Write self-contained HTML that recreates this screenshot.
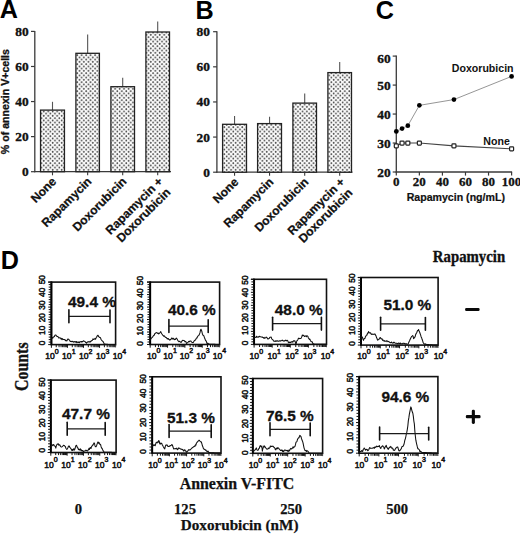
<!DOCTYPE html>
<html><head><meta charset="utf-8"><style>
html,body{margin:0;padding:0;background:#fff;}
body{width:520px;height:534px;overflow:hidden;font-family:"Liberation Sans", sans-serif;}
svg{display:block;}
</style></head><body>
<svg width="520" height="534" viewBox="0 0 520 534">
<defs>
<pattern id="dots" patternUnits="userSpaceOnUse" x="0.3" y="0" width="4.46" height="4.5">
<rect width="4.46" height="4.5" fill="#fcfcfc"/>
<circle cx="1.1" cy="1.1" r="0.9" fill="#383838"/>
<circle cx="3.33" cy="3.35" r="0.9" fill="#383838"/>
</pattern>
</defs>
<rect width="520" height="534" fill="#fff"/>
<text x="-0.3" y="18.2" font-family='"Liberation Sans", sans-serif' font-weight="bold" font-size="25.2" fill="#000">A</text>
<text x="195.5" y="18.9" font-family='"Liberation Sans", sans-serif' font-weight="bold" font-size="25.2" fill="#000">B</text>
<text x="375.8" y="18.6" font-family='"Liberation Sans", sans-serif' font-weight="bold" font-size="25.2" fill="#000">C</text>
<text x="0.8" y="269" font-family='"Liberation Sans", sans-serif' font-weight="bold" font-size="25.2" fill="#000">D</text>
<line x1="34.8" y1="30.9" x2="34.8" y2="172.3" stroke="#3a3a3a" stroke-width="1.3"/>
<line x1="34.2" y1="171.7" x2="171.0" y2="171.7" stroke="#3a3a3a" stroke-width="1.3"/>
<line x1="31" y1="171.70" x2="34.8" y2="171.70" stroke="#3a3a3a" stroke-width="1.2"/>
<text x="28.6" y="176.20" text-anchor="end" font-family='"Liberation Serif", serif' font-weight="bold" font-size="13.4" fill="#111" stroke="#111" stroke-width="0.35">0</text>
<line x1="31" y1="136.62" x2="34.8" y2="136.62" stroke="#3a3a3a" stroke-width="1.2"/>
<text x="28.6" y="141.12" text-anchor="end" font-family='"Liberation Serif", serif' font-weight="bold" font-size="13.4" fill="#111" stroke="#111" stroke-width="0.35">20</text>
<line x1="31" y1="101.55" x2="34.8" y2="101.55" stroke="#3a3a3a" stroke-width="1.2"/>
<text x="28.6" y="106.05" text-anchor="end" font-family='"Liberation Serif", serif' font-weight="bold" font-size="13.4" fill="#111" stroke="#111" stroke-width="0.35">40</text>
<line x1="31" y1="66.48" x2="34.8" y2="66.48" stroke="#3a3a3a" stroke-width="1.2"/>
<text x="28.6" y="70.98" text-anchor="end" font-family='"Liberation Serif", serif' font-weight="bold" font-size="13.4" fill="#111" stroke="#111" stroke-width="0.35">60</text>
<line x1="31" y1="31.40" x2="34.8" y2="31.40" stroke="#3a3a3a" stroke-width="1.2"/>
<text x="28.6" y="35.90" text-anchor="end" font-family='"Liberation Serif", serif' font-weight="bold" font-size="13.4" fill="#111" stroke="#111" stroke-width="0.35">80</text>
<line x1="52.50" y1="101.80" x2="52.50" y2="110.10" stroke="#555" stroke-width="1.1"/>
<rect x="40.55" y="110.10" width="23.90" height="61.60" fill="url(#dots)" stroke="#222" stroke-width="1.3"/>
<line x1="52.50" y1="171.7" x2="52.50" y2="175.3" stroke="#3a3a3a" stroke-width="1.1"/>
<line x1="87.65" y1="34.60" x2="87.65" y2="53.30" stroke="#555" stroke-width="1.1"/>
<rect x="75.90" y="53.30" width="23.50" height="118.40" fill="url(#dots)" stroke="#222" stroke-width="1.3"/>
<line x1="87.65" y1="171.7" x2="87.65" y2="175.3" stroke="#3a3a3a" stroke-width="1.1"/>
<line x1="122.70" y1="77.80" x2="122.70" y2="86.70" stroke="#555" stroke-width="1.1"/>
<rect x="110.90" y="86.70" width="23.60" height="85.00" fill="url(#dots)" stroke="#222" stroke-width="1.3"/>
<line x1="122.70" y1="171.7" x2="122.70" y2="175.3" stroke="#3a3a3a" stroke-width="1.1"/>
<line x1="157.70" y1="21.50" x2="157.70" y2="32.00" stroke="#555" stroke-width="1.1"/>
<rect x="145.90" y="32.00" width="23.60" height="139.70" fill="url(#dots)" stroke="#222" stroke-width="1.3"/>
<line x1="157.70" y1="171.7" x2="157.70" y2="175.3" stroke="#3a3a3a" stroke-width="1.1"/>
<text transform="translate(57.10,182.20) rotate(-45)" x="0" y="0" text-anchor="end" font-family='"Liberation Sans", sans-serif' font-weight="bold" font-size="12.1" fill="#111" stroke="#111" stroke-width="0.25">None</text>
<text transform="translate(92.25,182.20) rotate(-45)" x="0" y="0" text-anchor="end" font-family='"Liberation Sans", sans-serif' font-weight="bold" font-size="12.1" fill="#111" stroke="#111" stroke-width="0.25">Rapamycin</text>
<text transform="translate(127.30,182.20) rotate(-45)" x="0" y="0" text-anchor="end" font-family='"Liberation Sans", sans-serif' font-weight="bold" font-size="12.1" fill="#111" stroke="#111" stroke-width="0.25">Doxorubicin</text>
<text transform="translate(163.50,182.20) rotate(-45)" x="0" y="0" text-anchor="end" font-family='"Liberation Sans", sans-serif' font-weight="bold" font-size="12.1" fill="#111" stroke="#111" stroke-width="0.25">Rapamycin +</text>
<text transform="translate(171.31,193.05) rotate(-45)" x="0" y="0" text-anchor="end" font-family='"Liberation Sans", sans-serif' font-weight="bold" font-size="12.1" fill="#111" stroke="#111" stroke-width="0.25">Doxorubicin</text>
<line x1="216.9" y1="31.2" x2="216.9" y2="172.8" stroke="#3a3a3a" stroke-width="1.3"/>
<line x1="216.3" y1="172.2" x2="352.5" y2="172.2" stroke="#3a3a3a" stroke-width="1.3"/>
<line x1="213.1" y1="172.20" x2="216.9" y2="172.20" stroke="#3a3a3a" stroke-width="1.2"/>
<text x="210.0" y="176.70" text-anchor="end" font-family='"Liberation Serif", serif' font-weight="bold" font-size="13.4" fill="#111" stroke="#111" stroke-width="0.35">0</text>
<line x1="213.1" y1="137.07" x2="216.9" y2="137.07" stroke="#3a3a3a" stroke-width="1.2"/>
<text x="210.0" y="141.57" text-anchor="end" font-family='"Liberation Serif", serif' font-weight="bold" font-size="13.4" fill="#111" stroke="#111" stroke-width="0.35">20</text>
<line x1="213.1" y1="101.95" x2="216.9" y2="101.95" stroke="#3a3a3a" stroke-width="1.2"/>
<text x="210.0" y="106.45" text-anchor="end" font-family='"Liberation Serif", serif' font-weight="bold" font-size="13.4" fill="#111" stroke="#111" stroke-width="0.35">40</text>
<line x1="213.1" y1="66.82" x2="216.9" y2="66.82" stroke="#3a3a3a" stroke-width="1.2"/>
<text x="210.0" y="71.32" text-anchor="end" font-family='"Liberation Serif", serif' font-weight="bold" font-size="13.4" fill="#111" stroke="#111" stroke-width="0.35">60</text>
<line x1="213.1" y1="31.70" x2="216.9" y2="31.70" stroke="#3a3a3a" stroke-width="1.2"/>
<text x="210.0" y="36.20" text-anchor="end" font-family='"Liberation Serif", serif' font-weight="bold" font-size="13.4" fill="#111" stroke="#111" stroke-width="0.35">80</text>
<line x1="234.55" y1="116.10" x2="234.55" y2="124.30" stroke="#555" stroke-width="1.1"/>
<rect x="222.60" y="124.30" width="23.90" height="47.90" fill="url(#dots)" stroke="#222" stroke-width="1.3"/>
<line x1="234.55" y1="172.2" x2="234.55" y2="175.8" stroke="#3a3a3a" stroke-width="1.1"/>
<line x1="269.55" y1="116.80" x2="269.55" y2="123.60" stroke="#555" stroke-width="1.1"/>
<rect x="257.60" y="123.60" width="23.90" height="48.60" fill="url(#dots)" stroke="#222" stroke-width="1.3"/>
<line x1="269.55" y1="172.2" x2="269.55" y2="175.8" stroke="#3a3a3a" stroke-width="1.1"/>
<line x1="304.70" y1="93.50" x2="304.70" y2="103.10" stroke="#555" stroke-width="1.1"/>
<rect x="292.90" y="103.10" width="23.60" height="69.10" fill="url(#dots)" stroke="#222" stroke-width="1.3"/>
<line x1="304.70" y1="172.2" x2="304.70" y2="175.8" stroke="#3a3a3a" stroke-width="1.1"/>
<line x1="339.70" y1="62.10" x2="339.70" y2="72.60" stroke="#555" stroke-width="1.1"/>
<rect x="327.90" y="72.60" width="23.60" height="99.60" fill="url(#dots)" stroke="#222" stroke-width="1.3"/>
<line x1="339.70" y1="172.2" x2="339.70" y2="175.8" stroke="#3a3a3a" stroke-width="1.1"/>
<text transform="translate(239.15,182.70) rotate(-45)" x="0" y="0" text-anchor="end" font-family='"Liberation Sans", sans-serif' font-weight="bold" font-size="12.1" fill="#111" stroke="#111" stroke-width="0.25">None</text>
<text transform="translate(274.15,182.70) rotate(-45)" x="0" y="0" text-anchor="end" font-family='"Liberation Sans", sans-serif' font-weight="bold" font-size="12.1" fill="#111" stroke="#111" stroke-width="0.25">Rapamycin</text>
<text transform="translate(309.30,182.70) rotate(-45)" x="0" y="0" text-anchor="end" font-family='"Liberation Sans", sans-serif' font-weight="bold" font-size="12.1" fill="#111" stroke="#111" stroke-width="0.25">Doxorubicin</text>
<text transform="translate(345.50,182.70) rotate(-45)" x="0" y="0" text-anchor="end" font-family='"Liberation Sans", sans-serif' font-weight="bold" font-size="12.1" fill="#111" stroke="#111" stroke-width="0.25">Rapamycin +</text>
<text transform="translate(353.31,193.55) rotate(-45)" x="0" y="0" text-anchor="end" font-family='"Liberation Sans", sans-serif' font-weight="bold" font-size="12.1" fill="#111" stroke="#111" stroke-width="0.25">Doxorubicin</text>
<text transform="translate(9.2,101.6) rotate(-90)" text-anchor="middle" font-family='"Liberation Sans", sans-serif' font-weight="bold" font-size="10.6" fill="#111" stroke="#111" stroke-width="0.3">% of annexin V+cells</text>
<line x1="396.3" y1="55.6" x2="396.3" y2="172.6" stroke="#3a3a3a" stroke-width="1.3"/>
<line x1="395.7" y1="172.0" x2="512.1" y2="172.0" stroke="#3a3a3a" stroke-width="1.3"/>
<line x1="392.7" y1="172.00" x2="396.3" y2="172.00" stroke="#3a3a3a" stroke-width="1.2"/>
<text x="390.6" y="176.50" text-anchor="end" font-family='"Liberation Serif", serif' font-weight="bold" font-size="13.4" fill="#111" stroke="#111" stroke-width="0.35">20</text>
<line x1="392.7" y1="143.03" x2="396.3" y2="143.03" stroke="#3a3a3a" stroke-width="1.2"/>
<text x="390.6" y="147.53" text-anchor="end" font-family='"Liberation Serif", serif' font-weight="bold" font-size="13.4" fill="#111" stroke="#111" stroke-width="0.35">30</text>
<line x1="392.7" y1="114.05" x2="396.3" y2="114.05" stroke="#3a3a3a" stroke-width="1.2"/>
<text x="390.6" y="118.55" text-anchor="end" font-family='"Liberation Serif", serif' font-weight="bold" font-size="13.4" fill="#111" stroke="#111" stroke-width="0.35">40</text>
<line x1="392.7" y1="85.08" x2="396.3" y2="85.08" stroke="#3a3a3a" stroke-width="1.2"/>
<text x="390.6" y="89.58" text-anchor="end" font-family='"Liberation Serif", serif' font-weight="bold" font-size="13.4" fill="#111" stroke="#111" stroke-width="0.35">50</text>
<line x1="392.7" y1="56.10" x2="396.3" y2="56.10" stroke="#3a3a3a" stroke-width="1.2"/>
<text x="390.6" y="62.60" text-anchor="end" font-family='"Liberation Serif", serif' font-weight="bold" font-size="13.4" fill="#111" stroke="#111" stroke-width="0.35">60</text>
<line x1="396.30" y1="172.0" x2="396.30" y2="175.6" stroke="#3a3a3a" stroke-width="1.2"/>
<text x="396.30" y="185.9" text-anchor="middle" font-family='"Liberation Serif", serif' font-weight="bold" font-size="13.0" fill="#111" stroke="#111" stroke-width="0.3">0</text>
<line x1="419.36" y1="172.0" x2="419.36" y2="175.6" stroke="#3a3a3a" stroke-width="1.2"/>
<text x="419.36" y="185.9" text-anchor="middle" font-family='"Liberation Serif", serif' font-weight="bold" font-size="13.0" fill="#111" stroke="#111" stroke-width="0.3">20</text>
<line x1="442.42" y1="172.0" x2="442.42" y2="175.6" stroke="#3a3a3a" stroke-width="1.2"/>
<text x="442.42" y="185.9" text-anchor="middle" font-family='"Liberation Serif", serif' font-weight="bold" font-size="13.0" fill="#111" stroke="#111" stroke-width="0.3">40</text>
<line x1="465.48" y1="172.0" x2="465.48" y2="175.6" stroke="#3a3a3a" stroke-width="1.2"/>
<text x="465.48" y="185.9" text-anchor="middle" font-family='"Liberation Serif", serif' font-weight="bold" font-size="13.0" fill="#111" stroke="#111" stroke-width="0.3">60</text>
<line x1="488.54" y1="172.0" x2="488.54" y2="175.6" stroke="#3a3a3a" stroke-width="1.2"/>
<text x="488.54" y="185.9" text-anchor="middle" font-family='"Liberation Serif", serif' font-weight="bold" font-size="13.0" fill="#111" stroke="#111" stroke-width="0.3">80</text>
<line x1="511.60" y1="172.0" x2="511.60" y2="175.6" stroke="#3a3a3a" stroke-width="1.2"/>
<text x="511.60" y="185.9" text-anchor="middle" font-family='"Liberation Serif", serif' font-weight="bold" font-size="13.0" fill="#111" stroke="#111" stroke-width="0.3">100</text>
<polyline points="396.30,131.44 402.06,128.54 407.83,125.64 419.36,105.36 453.95,99.56 511.60,76.38" fill="none" stroke="#8a8a8a" stroke-width="0.9"/>
<polyline points="396.30,145.92 402.06,143.03 407.83,143.03 419.36,143.03 453.95,145.92 511.60,148.82" fill="none" stroke="#444" stroke-width="1.1"/>
<circle cx="396.30" cy="131.44" r="2.35" fill="#000"/>
<circle cx="402.06" cy="128.54" r="2.35" fill="#000"/>
<circle cx="407.83" cy="125.64" r="2.35" fill="#000"/>
<circle cx="419.36" cy="105.36" r="2.35" fill="#000"/>
<circle cx="453.95" cy="99.56" r="2.35" fill="#000"/>
<circle cx="511.60" cy="76.38" r="2.35" fill="#000"/>
<rect x="394.30" y="143.92" width="4.0" height="4.0" rx="0.8" fill="#fff" stroke="#222" stroke-width="1.2"/>
<rect x="400.06" y="141.03" width="4.0" height="4.0" rx="0.8" fill="#fff" stroke="#222" stroke-width="1.2"/>
<rect x="405.83" y="141.03" width="4.0" height="4.0" rx="0.8" fill="#fff" stroke="#222" stroke-width="1.2"/>
<rect x="417.36" y="141.03" width="4.0" height="4.0" rx="0.8" fill="#fff" stroke="#222" stroke-width="1.2"/>
<rect x="451.95" y="143.92" width="4.0" height="4.0" rx="0.8" fill="#fff" stroke="#222" stroke-width="1.2"/>
<rect x="509.60" y="146.82" width="4.0" height="4.0" rx="0.8" fill="#fff" stroke="#222" stroke-width="1.2"/>
<text x="513.6" y="71.8" text-anchor="end" font-family='"Liberation Sans", sans-serif' font-weight="bold" font-size="10.6" fill="#111">Doxorubicin</text>
<text x="509.8" y="145.2" text-anchor="end" font-family='"Liberation Sans", sans-serif' font-weight="bold" font-size="10.6" fill="#111">None</text>
<text x="455.8" y="200.5" text-anchor="middle" font-family='"Liberation Sans", sans-serif' font-weight="bold" font-size="10.6" fill="#111" stroke="#111" stroke-width="0.2">Rapamycin (ng/mL)</text>
<rect x="51.40" y="282.10" width="64.20" height="62.50" fill="none" stroke="#111" stroke-width="1.6"/>
<line x1="51.40" y1="281.50" x2="51.40" y2="345.20" stroke="#000" stroke-width="1.9"/>
<line x1="48.20" y1="282.10" x2="51.40" y2="282.10" stroke="#111" stroke-width="1.2"/>
<line x1="48.20" y1="344.60" x2="51.40" y2="344.60" stroke="#111" stroke-width="1.0"/>
<line x1="48.70" y1="342.10" x2="51.40" y2="342.10" stroke="#111" stroke-width="1.0"/>
<line x1="48.70" y1="339.60" x2="51.40" y2="339.60" stroke="#111" stroke-width="1.0"/>
<line x1="48.70" y1="337.10" x2="51.40" y2="337.10" stroke="#111" stroke-width="1.0"/>
<line x1="48.70" y1="334.60" x2="51.40" y2="334.60" stroke="#111" stroke-width="1.0"/>
<line x1="48.20" y1="332.10" x2="51.40" y2="332.10" stroke="#111" stroke-width="1.0"/>
<line x1="48.70" y1="329.60" x2="51.40" y2="329.60" stroke="#111" stroke-width="1.0"/>
<line x1="48.70" y1="327.10" x2="51.40" y2="327.10" stroke="#111" stroke-width="1.0"/>
<line x1="48.70" y1="324.60" x2="51.40" y2="324.60" stroke="#111" stroke-width="1.0"/>
<line x1="48.70" y1="322.10" x2="51.40" y2="322.10" stroke="#111" stroke-width="1.0"/>
<line x1="48.20" y1="319.60" x2="51.40" y2="319.60" stroke="#111" stroke-width="1.0"/>
<line x1="48.70" y1="317.10" x2="51.40" y2="317.10" stroke="#111" stroke-width="1.0"/>
<line x1="48.70" y1="314.60" x2="51.40" y2="314.60" stroke="#111" stroke-width="1.0"/>
<line x1="48.70" y1="312.10" x2="51.40" y2="312.10" stroke="#111" stroke-width="1.0"/>
<line x1="48.70" y1="309.60" x2="51.40" y2="309.60" stroke="#111" stroke-width="1.0"/>
<line x1="48.20" y1="307.10" x2="51.40" y2="307.10" stroke="#111" stroke-width="1.0"/>
<line x1="48.70" y1="304.60" x2="51.40" y2="304.60" stroke="#111" stroke-width="1.0"/>
<line x1="48.70" y1="302.10" x2="51.40" y2="302.10" stroke="#111" stroke-width="1.0"/>
<line x1="48.70" y1="299.60" x2="51.40" y2="299.60" stroke="#111" stroke-width="1.0"/>
<line x1="48.70" y1="297.10" x2="51.40" y2="297.10" stroke="#111" stroke-width="1.0"/>
<line x1="48.20" y1="294.60" x2="51.40" y2="294.60" stroke="#111" stroke-width="1.0"/>
<line x1="48.70" y1="292.10" x2="51.40" y2="292.10" stroke="#111" stroke-width="1.0"/>
<line x1="48.70" y1="289.60" x2="51.40" y2="289.60" stroke="#111" stroke-width="1.0"/>
<line x1="48.70" y1="287.10" x2="51.40" y2="287.10" stroke="#111" stroke-width="1.0"/>
<line x1="48.70" y1="284.60" x2="51.40" y2="284.60" stroke="#111" stroke-width="1.0"/>
<line x1="48.20" y1="282.10" x2="51.40" y2="282.10" stroke="#111" stroke-width="1.0"/>
<line x1="51.40" y1="344.60" x2="51.40" y2="347.80" stroke="#111" stroke-width="1.0"/>
<line x1="56.23" y1="344.60" x2="56.23" y2="347.20" stroke="#111" stroke-width="1.0"/>
<line x1="59.06" y1="344.60" x2="59.06" y2="347.20" stroke="#111" stroke-width="1.0"/>
<line x1="61.06" y1="344.60" x2="61.06" y2="347.20" stroke="#111" stroke-width="1.0"/>
<line x1="62.62" y1="344.60" x2="62.62" y2="347.20" stroke="#111" stroke-width="1.0"/>
<line x1="63.89" y1="344.60" x2="63.89" y2="347.20" stroke="#111" stroke-width="1.0"/>
<line x1="64.96" y1="344.60" x2="64.96" y2="347.20" stroke="#111" stroke-width="1.0"/>
<line x1="65.89" y1="344.60" x2="65.89" y2="347.20" stroke="#111" stroke-width="1.0"/>
<line x1="66.72" y1="344.60" x2="66.72" y2="347.20" stroke="#111" stroke-width="1.0"/>
<line x1="67.45" y1="344.60" x2="67.45" y2="347.80" stroke="#111" stroke-width="1.0"/>
<line x1="72.28" y1="344.60" x2="72.28" y2="347.20" stroke="#111" stroke-width="1.0"/>
<line x1="75.11" y1="344.60" x2="75.11" y2="347.20" stroke="#111" stroke-width="1.0"/>
<line x1="77.11" y1="344.60" x2="77.11" y2="347.20" stroke="#111" stroke-width="1.0"/>
<line x1="78.67" y1="344.60" x2="78.67" y2="347.20" stroke="#111" stroke-width="1.0"/>
<line x1="79.94" y1="344.60" x2="79.94" y2="347.20" stroke="#111" stroke-width="1.0"/>
<line x1="81.01" y1="344.60" x2="81.01" y2="347.20" stroke="#111" stroke-width="1.0"/>
<line x1="81.94" y1="344.60" x2="81.94" y2="347.20" stroke="#111" stroke-width="1.0"/>
<line x1="82.77" y1="344.60" x2="82.77" y2="347.20" stroke="#111" stroke-width="1.0"/>
<line x1="83.50" y1="344.60" x2="83.50" y2="347.80" stroke="#111" stroke-width="1.0"/>
<line x1="88.33" y1="344.60" x2="88.33" y2="347.20" stroke="#111" stroke-width="1.0"/>
<line x1="91.16" y1="344.60" x2="91.16" y2="347.20" stroke="#111" stroke-width="1.0"/>
<line x1="93.16" y1="344.60" x2="93.16" y2="347.20" stroke="#111" stroke-width="1.0"/>
<line x1="94.72" y1="344.60" x2="94.72" y2="347.20" stroke="#111" stroke-width="1.0"/>
<line x1="95.99" y1="344.60" x2="95.99" y2="347.20" stroke="#111" stroke-width="1.0"/>
<line x1="97.06" y1="344.60" x2="97.06" y2="347.20" stroke="#111" stroke-width="1.0"/>
<line x1="97.99" y1="344.60" x2="97.99" y2="347.20" stroke="#111" stroke-width="1.0"/>
<line x1="98.82" y1="344.60" x2="98.82" y2="347.20" stroke="#111" stroke-width="1.0"/>
<line x1="99.55" y1="344.60" x2="99.55" y2="347.80" stroke="#111" stroke-width="1.0"/>
<line x1="104.38" y1="344.60" x2="104.38" y2="347.20" stroke="#111" stroke-width="1.0"/>
<line x1="107.21" y1="344.60" x2="107.21" y2="347.20" stroke="#111" stroke-width="1.0"/>
<line x1="109.21" y1="344.60" x2="109.21" y2="347.20" stroke="#111" stroke-width="1.0"/>
<line x1="110.77" y1="344.60" x2="110.77" y2="347.20" stroke="#111" stroke-width="1.0"/>
<line x1="112.04" y1="344.60" x2="112.04" y2="347.20" stroke="#111" stroke-width="1.0"/>
<line x1="113.11" y1="344.60" x2="113.11" y2="347.20" stroke="#111" stroke-width="1.0"/>
<line x1="114.04" y1="344.60" x2="114.04" y2="347.20" stroke="#111" stroke-width="1.0"/>
<line x1="114.87" y1="344.60" x2="114.87" y2="347.20" stroke="#111" stroke-width="1.0"/>
<line x1="115.60" y1="344.60" x2="115.60" y2="347.40" stroke="#222" stroke-width="0.8"/>
<text transform="translate(45.00,343.00) rotate(-90)" text-anchor="middle" font-family='"Liberation Sans", sans-serif' font-size="8.4" fill="#111" stroke="#111" stroke-width="0.5">0</text>
<text transform="translate(45.00,330.34) rotate(-90)" text-anchor="middle" font-family='"Liberation Sans", sans-serif' font-size="8.4" fill="#111" stroke="#111" stroke-width="0.5">10</text>
<text transform="translate(45.00,317.68) rotate(-90)" text-anchor="middle" font-family='"Liberation Sans", sans-serif' font-size="8.4" fill="#111" stroke="#111" stroke-width="0.5">20</text>
<text transform="translate(45.00,305.02) rotate(-90)" text-anchor="middle" font-family='"Liberation Sans", sans-serif' font-size="8.4" fill="#111" stroke="#111" stroke-width="0.5">30</text>
<text transform="translate(45.00,292.36) rotate(-90)" text-anchor="middle" font-family='"Liberation Sans", sans-serif' font-size="8.4" fill="#111" stroke="#111" stroke-width="0.5">40</text>
<text transform="translate(45.00,279.70) rotate(-90)" text-anchor="middle" font-family='"Liberation Sans", sans-serif' font-size="8.4" fill="#111" stroke="#111" stroke-width="0.5">50</text>
<text x="45.20" y="358.90" font-family='"Liberation Sans", sans-serif' font-size="8.6" fill="#111" stroke="#111" stroke-width="0.5">10<tspan dy="-5.4" font-size="7.0">0</tspan></text>
<text x="62.10" y="358.90" font-family='"Liberation Sans", sans-serif' font-size="8.6" fill="#111" stroke="#111" stroke-width="0.5">10<tspan dy="-5.4" font-size="7.0">1</tspan></text>
<text x="79.00" y="358.90" font-family='"Liberation Sans", sans-serif' font-size="8.6" fill="#111" stroke="#111" stroke-width="0.5">10<tspan dy="-5.4" font-size="7.0">2</tspan></text>
<text x="95.90" y="358.90" font-family='"Liberation Sans", sans-serif' font-size="8.6" fill="#111" stroke="#111" stroke-width="0.5">10<tspan dy="-5.4" font-size="7.0">3</tspan></text>
<text x="112.80" y="358.90" font-family='"Liberation Sans", sans-serif' font-size="8.6" fill="#111" stroke="#111" stroke-width="0.5">10<tspan dy="-5.4" font-size="7.0">4</tspan></text>
<polyline points="51.40,338.57 51.90,338.44 52.40,337.48 52.90,337.88 53.41,336.99 53.91,336.75 54.41,336.45 54.91,335.20 55.41,335.10 55.91,335.03 56.42,335.99 56.92,336.47 57.42,336.51 57.92,336.40 58.42,337.68 58.92,337.95 59.42,337.79 59.93,337.65 60.43,338.37 60.93,338.85 61.43,338.38 61.93,339.67 62.43,338.65 62.94,339.36 63.44,339.54 63.94,339.58 64.44,339.69 64.94,339.44 65.44,340.62 65.95,340.51 66.45,340.82 66.95,340.91 67.45,339.53 67.95,338.97 68.45,339.20 68.95,339.78 69.46,339.95 69.96,341.03 70.46,341.51 70.96,341.26 71.46,341.52 71.96,341.80 72.47,341.28 72.97,341.48 73.47,342.14 73.97,341.80 74.47,341.91 74.97,341.53 75.47,341.77 75.98,342.38 76.48,341.57 76.98,342.70 77.48,342.29 77.98,341.83 78.48,342.55 78.99,342.10 79.49,342.63 79.99,341.81 80.49,341.65 80.99,341.86 81.49,341.44 82.00,342.11 82.50,341.52 83.00,341.19 83.50,340.75 84.00,341.28 84.50,341.17 85.00,341.41 85.51,342.37 86.01,342.50 86.51,343.30 87.01,342.33 87.51,342.23 88.01,341.63 88.52,341.68 89.02,342.19 89.52,341.90 90.02,341.38 90.52,341.94 91.02,340.95 91.52,340.87 92.03,340.49 92.53,340.12 93.03,338.80 93.53,339.51 94.03,339.31 94.53,339.08 95.04,338.43 95.54,339.24 96.04,338.09 96.54,337.27 97.04,336.16 97.54,335.54 98.05,335.21 98.55,336.51 99.05,336.91 99.55,337.55 100.05,337.46 100.55,337.93 101.05,339.51 101.56,340.04 102.06,340.54 102.56,341.10 103.06,341.61 103.56,342.35 104.06,343.63 104.57,344.53 105.07,344.07 105.57,344.23 106.07,344.35 106.57,344.37 107.07,344.38 107.57,344.39 108.08,344.40 108.58,344.42 109.08,344.43 109.58,344.44 110.08,344.46 110.58,344.47 111.09,344.48 111.59,344.50 112.09,344.51 112.59,344.52 113.09,344.53 113.59,344.55 114.10,344.56 114.60,344.57 115.10,344.59 115.60,344.60" fill="none" stroke="#111" stroke-width="1.05" stroke-linejoin="round"/>
<line x1="68.90" y1="316.30" x2="110.00" y2="316.30" stroke="#1a1a1a" stroke-width="1.25"/>
<line x1="68.90" y1="309.80" x2="68.90" y2="322.70" stroke="#111" stroke-width="1.6" stroke-linecap="round"/>
<line x1="110.00" y1="310.00" x2="110.00" y2="322.70" stroke="#111" stroke-width="1.6" stroke-linecap="round"/>
<text x="68.00" y="306.60" font-family='"Liberation Sans", sans-serif' font-weight="bold" font-size="15.4" fill="#111" stroke="#111" stroke-width="0.3">49.4 %</text>
<rect x="150.20" y="282.10" width="69.40" height="62.40" fill="none" stroke="#111" stroke-width="1.6"/>
<line x1="150.20" y1="281.50" x2="150.20" y2="345.10" stroke="#000" stroke-width="1.9"/>
<line x1="147.00" y1="282.10" x2="150.20" y2="282.10" stroke="#111" stroke-width="1.2"/>
<line x1="147.00" y1="344.50" x2="150.20" y2="344.50" stroke="#111" stroke-width="1.0"/>
<line x1="147.50" y1="342.00" x2="150.20" y2="342.00" stroke="#111" stroke-width="1.0"/>
<line x1="147.50" y1="339.51" x2="150.20" y2="339.51" stroke="#111" stroke-width="1.0"/>
<line x1="147.50" y1="337.01" x2="150.20" y2="337.01" stroke="#111" stroke-width="1.0"/>
<line x1="147.50" y1="334.52" x2="150.20" y2="334.52" stroke="#111" stroke-width="1.0"/>
<line x1="147.00" y1="332.02" x2="150.20" y2="332.02" stroke="#111" stroke-width="1.0"/>
<line x1="147.50" y1="329.52" x2="150.20" y2="329.52" stroke="#111" stroke-width="1.0"/>
<line x1="147.50" y1="327.03" x2="150.20" y2="327.03" stroke="#111" stroke-width="1.0"/>
<line x1="147.50" y1="324.53" x2="150.20" y2="324.53" stroke="#111" stroke-width="1.0"/>
<line x1="147.50" y1="322.04" x2="150.20" y2="322.04" stroke="#111" stroke-width="1.0"/>
<line x1="147.00" y1="319.54" x2="150.20" y2="319.54" stroke="#111" stroke-width="1.0"/>
<line x1="147.50" y1="317.04" x2="150.20" y2="317.04" stroke="#111" stroke-width="1.0"/>
<line x1="147.50" y1="314.55" x2="150.20" y2="314.55" stroke="#111" stroke-width="1.0"/>
<line x1="147.50" y1="312.05" x2="150.20" y2="312.05" stroke="#111" stroke-width="1.0"/>
<line x1="147.50" y1="309.56" x2="150.20" y2="309.56" stroke="#111" stroke-width="1.0"/>
<line x1="147.00" y1="307.06" x2="150.20" y2="307.06" stroke="#111" stroke-width="1.0"/>
<line x1="147.50" y1="304.56" x2="150.20" y2="304.56" stroke="#111" stroke-width="1.0"/>
<line x1="147.50" y1="302.07" x2="150.20" y2="302.07" stroke="#111" stroke-width="1.0"/>
<line x1="147.50" y1="299.57" x2="150.20" y2="299.57" stroke="#111" stroke-width="1.0"/>
<line x1="147.50" y1="297.08" x2="150.20" y2="297.08" stroke="#111" stroke-width="1.0"/>
<line x1="147.00" y1="294.58" x2="150.20" y2="294.58" stroke="#111" stroke-width="1.0"/>
<line x1="147.50" y1="292.08" x2="150.20" y2="292.08" stroke="#111" stroke-width="1.0"/>
<line x1="147.50" y1="289.59" x2="150.20" y2="289.59" stroke="#111" stroke-width="1.0"/>
<line x1="147.50" y1="287.09" x2="150.20" y2="287.09" stroke="#111" stroke-width="1.0"/>
<line x1="147.50" y1="284.60" x2="150.20" y2="284.60" stroke="#111" stroke-width="1.0"/>
<line x1="147.00" y1="282.10" x2="150.20" y2="282.10" stroke="#111" stroke-width="1.0"/>
<line x1="150.20" y1="344.50" x2="150.20" y2="347.70" stroke="#111" stroke-width="1.0"/>
<line x1="155.42" y1="344.50" x2="155.42" y2="347.10" stroke="#111" stroke-width="1.0"/>
<line x1="158.48" y1="344.50" x2="158.48" y2="347.10" stroke="#111" stroke-width="1.0"/>
<line x1="160.65" y1="344.50" x2="160.65" y2="347.10" stroke="#111" stroke-width="1.0"/>
<line x1="162.33" y1="344.50" x2="162.33" y2="347.10" stroke="#111" stroke-width="1.0"/>
<line x1="163.70" y1="344.50" x2="163.70" y2="347.10" stroke="#111" stroke-width="1.0"/>
<line x1="164.86" y1="344.50" x2="164.86" y2="347.10" stroke="#111" stroke-width="1.0"/>
<line x1="165.87" y1="344.50" x2="165.87" y2="347.10" stroke="#111" stroke-width="1.0"/>
<line x1="166.76" y1="344.50" x2="166.76" y2="347.10" stroke="#111" stroke-width="1.0"/>
<line x1="167.55" y1="344.50" x2="167.55" y2="347.70" stroke="#111" stroke-width="1.0"/>
<line x1="172.77" y1="344.50" x2="172.77" y2="347.10" stroke="#111" stroke-width="1.0"/>
<line x1="175.83" y1="344.50" x2="175.83" y2="347.10" stroke="#111" stroke-width="1.0"/>
<line x1="178.00" y1="344.50" x2="178.00" y2="347.10" stroke="#111" stroke-width="1.0"/>
<line x1="179.68" y1="344.50" x2="179.68" y2="347.10" stroke="#111" stroke-width="1.0"/>
<line x1="181.05" y1="344.50" x2="181.05" y2="347.10" stroke="#111" stroke-width="1.0"/>
<line x1="182.21" y1="344.50" x2="182.21" y2="347.10" stroke="#111" stroke-width="1.0"/>
<line x1="183.22" y1="344.50" x2="183.22" y2="347.10" stroke="#111" stroke-width="1.0"/>
<line x1="184.11" y1="344.50" x2="184.11" y2="347.10" stroke="#111" stroke-width="1.0"/>
<line x1="184.90" y1="344.50" x2="184.90" y2="347.70" stroke="#111" stroke-width="1.0"/>
<line x1="190.12" y1="344.50" x2="190.12" y2="347.10" stroke="#111" stroke-width="1.0"/>
<line x1="193.18" y1="344.50" x2="193.18" y2="347.10" stroke="#111" stroke-width="1.0"/>
<line x1="195.35" y1="344.50" x2="195.35" y2="347.10" stroke="#111" stroke-width="1.0"/>
<line x1="197.03" y1="344.50" x2="197.03" y2="347.10" stroke="#111" stroke-width="1.0"/>
<line x1="198.40" y1="344.50" x2="198.40" y2="347.10" stroke="#111" stroke-width="1.0"/>
<line x1="199.56" y1="344.50" x2="199.56" y2="347.10" stroke="#111" stroke-width="1.0"/>
<line x1="200.57" y1="344.50" x2="200.57" y2="347.10" stroke="#111" stroke-width="1.0"/>
<line x1="201.46" y1="344.50" x2="201.46" y2="347.10" stroke="#111" stroke-width="1.0"/>
<line x1="202.25" y1="344.50" x2="202.25" y2="347.70" stroke="#111" stroke-width="1.0"/>
<line x1="207.47" y1="344.50" x2="207.47" y2="347.10" stroke="#111" stroke-width="1.0"/>
<line x1="210.53" y1="344.50" x2="210.53" y2="347.10" stroke="#111" stroke-width="1.0"/>
<line x1="212.70" y1="344.50" x2="212.70" y2="347.10" stroke="#111" stroke-width="1.0"/>
<line x1="214.38" y1="344.50" x2="214.38" y2="347.10" stroke="#111" stroke-width="1.0"/>
<line x1="215.75" y1="344.50" x2="215.75" y2="347.10" stroke="#111" stroke-width="1.0"/>
<line x1="216.91" y1="344.50" x2="216.91" y2="347.10" stroke="#111" stroke-width="1.0"/>
<line x1="217.92" y1="344.50" x2="217.92" y2="347.10" stroke="#111" stroke-width="1.0"/>
<line x1="218.81" y1="344.50" x2="218.81" y2="347.10" stroke="#111" stroke-width="1.0"/>
<line x1="219.60" y1="344.50" x2="219.60" y2="347.30" stroke="#222" stroke-width="0.8"/>
<text transform="translate(143.10,343.40) rotate(-90)" text-anchor="middle" font-family='"Liberation Sans", sans-serif' font-size="8.4" fill="#111" stroke="#111" stroke-width="0.5">0</text>
<text transform="translate(143.10,330.82) rotate(-90)" text-anchor="middle" font-family='"Liberation Sans", sans-serif' font-size="8.4" fill="#111" stroke="#111" stroke-width="0.5">10</text>
<text transform="translate(143.10,318.24) rotate(-90)" text-anchor="middle" font-family='"Liberation Sans", sans-serif' font-size="8.4" fill="#111" stroke="#111" stroke-width="0.5">20</text>
<text transform="translate(143.10,305.66) rotate(-90)" text-anchor="middle" font-family='"Liberation Sans", sans-serif' font-size="8.4" fill="#111" stroke="#111" stroke-width="0.5">30</text>
<text transform="translate(143.10,293.08) rotate(-90)" text-anchor="middle" font-family='"Liberation Sans", sans-serif' font-size="8.4" fill="#111" stroke="#111" stroke-width="0.5">40</text>
<text transform="translate(143.10,280.50) rotate(-90)" text-anchor="middle" font-family='"Liberation Sans", sans-serif' font-size="8.4" fill="#111" stroke="#111" stroke-width="0.5">50</text>
<text x="146.90" y="358.70" font-family='"Liberation Sans", sans-serif' font-size="8.6" fill="#111" stroke="#111" stroke-width="0.5">10<tspan dy="-5.4" font-size="7.0">0</tspan></text>
<text x="163.35" y="358.70" font-family='"Liberation Sans", sans-serif' font-size="8.6" fill="#111" stroke="#111" stroke-width="0.5">10<tspan dy="-5.4" font-size="7.0">1</tspan></text>
<text x="179.80" y="358.70" font-family='"Liberation Sans", sans-serif' font-size="8.6" fill="#111" stroke="#111" stroke-width="0.5">10<tspan dy="-5.4" font-size="7.0">2</tspan></text>
<text x="196.25" y="358.70" font-family='"Liberation Sans", sans-serif' font-size="8.6" fill="#111" stroke="#111" stroke-width="0.5">10<tspan dy="-5.4" font-size="7.0">3</tspan></text>
<text x="212.70" y="358.70" font-family='"Liberation Sans", sans-serif' font-size="8.6" fill="#111" stroke="#111" stroke-width="0.5">10<tspan dy="-5.4" font-size="7.0">4</tspan></text>
<polyline points="150.20,339.61 150.70,339.24 151.21,338.55 151.71,337.64 152.21,337.45 152.71,336.93 153.22,336.07 153.72,335.26 154.22,335.30 154.73,333.77 155.23,333.48 155.73,332.92 156.23,332.57 156.74,332.66 157.24,332.91 157.74,333.54 158.25,333.13 158.75,333.98 159.25,333.48 159.76,332.81 160.26,332.37 160.76,331.65 161.26,332.76 161.77,333.73 162.27,334.44 162.77,335.28 163.28,335.44 163.78,336.35 164.28,335.78 164.78,336.43 165.29,337.26 165.79,337.38 166.29,337.60 166.80,338.16 167.30,339.03 167.80,338.61 168.30,338.57 168.81,339.38 169.31,339.50 169.81,340.14 170.32,339.81 170.82,339.17 171.32,338.93 171.82,337.88 172.33,338.70 172.83,339.13 173.33,338.24 173.84,339.03 174.34,339.66 174.84,339.03 175.34,339.53 175.85,338.76 176.35,338.06 176.85,338.67 177.36,339.46 177.86,340.59 178.36,341.04 178.87,341.69 179.37,341.20 179.87,341.76 180.37,341.72 180.88,342.37 181.38,342.17 181.88,341.09 182.39,340.54 182.89,340.36 183.39,340.49 183.89,340.60 184.40,340.83 184.90,341.60 185.40,341.36 185.91,341.77 186.41,343.42 186.91,343.25 187.41,342.71 187.92,342.51 188.42,341.74 188.92,341.26 189.43,341.81 189.93,341.11 190.43,340.96 190.93,340.98 191.44,341.89 191.94,342.24 192.44,342.40 192.95,342.61 193.45,342.25 193.95,341.29 194.46,340.51 194.96,340.14 195.46,339.95 195.96,338.93 196.47,337.95 196.97,338.04 197.47,336.82 197.98,336.01 198.48,335.68 198.98,335.22 199.48,334.11 199.99,332.64 200.49,330.03 200.99,329.20 201.50,330.43 202.00,332.02 202.50,334.46 203.00,335.21 203.51,335.29 204.01,336.33 204.51,337.78 205.02,339.04 205.52,340.34 206.02,340.72 206.52,342.02 207.03,343.50 207.53,343.24 208.03,343.18 208.54,343.90 209.04,344.03 209.54,344.16 210.04,344.25 210.55,344.27 211.05,344.28 211.55,344.29 212.06,344.31 212.56,344.32 213.06,344.33 213.57,344.34 214.07,344.36 214.57,344.37 215.07,344.38 215.58,344.40 216.08,344.41 216.58,344.42 217.09,344.44 217.59,344.45 218.09,344.46 218.59,344.47 219.10,344.49 219.60,344.50" fill="none" stroke="#111" stroke-width="1.05" stroke-linejoin="round"/>
<line x1="168.90" y1="326.00" x2="208.20" y2="326.00" stroke="#1a1a1a" stroke-width="1.25"/>
<line x1="168.90" y1="319.50" x2="168.90" y2="332.40" stroke="#111" stroke-width="1.6" stroke-linecap="round"/>
<line x1="208.20" y1="319.70" x2="208.20" y2="332.40" stroke="#111" stroke-width="1.6" stroke-linecap="round"/>
<text x="167.90" y="315.00" font-family='"Liberation Sans", sans-serif' font-weight="bold" font-size="15.4" fill="#111" stroke="#111" stroke-width="0.3">40.6 %</text>
<rect x="254.10" y="279.30" width="72.40" height="65.10" fill="none" stroke="#111" stroke-width="1.6"/>
<line x1="254.10" y1="278.70" x2="254.10" y2="345.00" stroke="#000" stroke-width="1.9"/>
<line x1="250.90" y1="279.30" x2="254.10" y2="279.30" stroke="#111" stroke-width="1.2"/>
<line x1="250.90" y1="344.40" x2="254.10" y2="344.40" stroke="#111" stroke-width="1.0"/>
<line x1="251.40" y1="341.80" x2="254.10" y2="341.80" stroke="#111" stroke-width="1.0"/>
<line x1="251.40" y1="339.19" x2="254.10" y2="339.19" stroke="#111" stroke-width="1.0"/>
<line x1="251.40" y1="336.59" x2="254.10" y2="336.59" stroke="#111" stroke-width="1.0"/>
<line x1="251.40" y1="333.98" x2="254.10" y2="333.98" stroke="#111" stroke-width="1.0"/>
<line x1="250.90" y1="331.38" x2="254.10" y2="331.38" stroke="#111" stroke-width="1.0"/>
<line x1="251.40" y1="328.78" x2="254.10" y2="328.78" stroke="#111" stroke-width="1.0"/>
<line x1="251.40" y1="326.17" x2="254.10" y2="326.17" stroke="#111" stroke-width="1.0"/>
<line x1="251.40" y1="323.57" x2="254.10" y2="323.57" stroke="#111" stroke-width="1.0"/>
<line x1="251.40" y1="320.96" x2="254.10" y2="320.96" stroke="#111" stroke-width="1.0"/>
<line x1="250.90" y1="318.36" x2="254.10" y2="318.36" stroke="#111" stroke-width="1.0"/>
<line x1="251.40" y1="315.76" x2="254.10" y2="315.76" stroke="#111" stroke-width="1.0"/>
<line x1="251.40" y1="313.15" x2="254.10" y2="313.15" stroke="#111" stroke-width="1.0"/>
<line x1="251.40" y1="310.55" x2="254.10" y2="310.55" stroke="#111" stroke-width="1.0"/>
<line x1="251.40" y1="307.94" x2="254.10" y2="307.94" stroke="#111" stroke-width="1.0"/>
<line x1="250.90" y1="305.34" x2="254.10" y2="305.34" stroke="#111" stroke-width="1.0"/>
<line x1="251.40" y1="302.74" x2="254.10" y2="302.74" stroke="#111" stroke-width="1.0"/>
<line x1="251.40" y1="300.13" x2="254.10" y2="300.13" stroke="#111" stroke-width="1.0"/>
<line x1="251.40" y1="297.53" x2="254.10" y2="297.53" stroke="#111" stroke-width="1.0"/>
<line x1="251.40" y1="294.92" x2="254.10" y2="294.92" stroke="#111" stroke-width="1.0"/>
<line x1="250.90" y1="292.32" x2="254.10" y2="292.32" stroke="#111" stroke-width="1.0"/>
<line x1="251.40" y1="289.72" x2="254.10" y2="289.72" stroke="#111" stroke-width="1.0"/>
<line x1="251.40" y1="287.11" x2="254.10" y2="287.11" stroke="#111" stroke-width="1.0"/>
<line x1="251.40" y1="284.51" x2="254.10" y2="284.51" stroke="#111" stroke-width="1.0"/>
<line x1="251.40" y1="281.90" x2="254.10" y2="281.90" stroke="#111" stroke-width="1.0"/>
<line x1="250.90" y1="279.30" x2="254.10" y2="279.30" stroke="#111" stroke-width="1.0"/>
<line x1="254.10" y1="344.40" x2="254.10" y2="347.60" stroke="#111" stroke-width="1.0"/>
<line x1="259.55" y1="344.40" x2="259.55" y2="347.00" stroke="#111" stroke-width="1.0"/>
<line x1="262.74" y1="344.40" x2="262.74" y2="347.00" stroke="#111" stroke-width="1.0"/>
<line x1="265.00" y1="344.40" x2="265.00" y2="347.00" stroke="#111" stroke-width="1.0"/>
<line x1="266.75" y1="344.40" x2="266.75" y2="347.00" stroke="#111" stroke-width="1.0"/>
<line x1="268.18" y1="344.40" x2="268.18" y2="347.00" stroke="#111" stroke-width="1.0"/>
<line x1="269.40" y1="344.40" x2="269.40" y2="347.00" stroke="#111" stroke-width="1.0"/>
<line x1="270.45" y1="344.40" x2="270.45" y2="347.00" stroke="#111" stroke-width="1.0"/>
<line x1="271.37" y1="344.40" x2="271.37" y2="347.00" stroke="#111" stroke-width="1.0"/>
<line x1="272.20" y1="344.40" x2="272.20" y2="347.60" stroke="#111" stroke-width="1.0"/>
<line x1="277.65" y1="344.40" x2="277.65" y2="347.00" stroke="#111" stroke-width="1.0"/>
<line x1="280.84" y1="344.40" x2="280.84" y2="347.00" stroke="#111" stroke-width="1.0"/>
<line x1="283.10" y1="344.40" x2="283.10" y2="347.00" stroke="#111" stroke-width="1.0"/>
<line x1="284.85" y1="344.40" x2="284.85" y2="347.00" stroke="#111" stroke-width="1.0"/>
<line x1="286.28" y1="344.40" x2="286.28" y2="347.00" stroke="#111" stroke-width="1.0"/>
<line x1="287.50" y1="344.40" x2="287.50" y2="347.00" stroke="#111" stroke-width="1.0"/>
<line x1="288.55" y1="344.40" x2="288.55" y2="347.00" stroke="#111" stroke-width="1.0"/>
<line x1="289.47" y1="344.40" x2="289.47" y2="347.00" stroke="#111" stroke-width="1.0"/>
<line x1="290.30" y1="344.40" x2="290.30" y2="347.60" stroke="#111" stroke-width="1.0"/>
<line x1="295.75" y1="344.40" x2="295.75" y2="347.00" stroke="#111" stroke-width="1.0"/>
<line x1="298.94" y1="344.40" x2="298.94" y2="347.00" stroke="#111" stroke-width="1.0"/>
<line x1="301.20" y1="344.40" x2="301.20" y2="347.00" stroke="#111" stroke-width="1.0"/>
<line x1="302.95" y1="344.40" x2="302.95" y2="347.00" stroke="#111" stroke-width="1.0"/>
<line x1="304.38" y1="344.40" x2="304.38" y2="347.00" stroke="#111" stroke-width="1.0"/>
<line x1="305.60" y1="344.40" x2="305.60" y2="347.00" stroke="#111" stroke-width="1.0"/>
<line x1="306.65" y1="344.40" x2="306.65" y2="347.00" stroke="#111" stroke-width="1.0"/>
<line x1="307.57" y1="344.40" x2="307.57" y2="347.00" stroke="#111" stroke-width="1.0"/>
<line x1="308.40" y1="344.40" x2="308.40" y2="347.60" stroke="#111" stroke-width="1.0"/>
<line x1="313.85" y1="344.40" x2="313.85" y2="347.00" stroke="#111" stroke-width="1.0"/>
<line x1="317.04" y1="344.40" x2="317.04" y2="347.00" stroke="#111" stroke-width="1.0"/>
<line x1="319.30" y1="344.40" x2="319.30" y2="347.00" stroke="#111" stroke-width="1.0"/>
<line x1="321.05" y1="344.40" x2="321.05" y2="347.00" stroke="#111" stroke-width="1.0"/>
<line x1="322.48" y1="344.40" x2="322.48" y2="347.00" stroke="#111" stroke-width="1.0"/>
<line x1="323.70" y1="344.40" x2="323.70" y2="347.00" stroke="#111" stroke-width="1.0"/>
<line x1="324.75" y1="344.40" x2="324.75" y2="347.00" stroke="#111" stroke-width="1.0"/>
<line x1="325.67" y1="344.40" x2="325.67" y2="347.00" stroke="#111" stroke-width="1.0"/>
<line x1="326.50" y1="344.40" x2="326.50" y2="347.20" stroke="#222" stroke-width="0.8"/>
<text transform="translate(248.00,342.80) rotate(-90)" text-anchor="middle" font-family='"Liberation Sans", sans-serif' font-size="8.4" fill="#111" stroke="#111" stroke-width="0.5">0</text>
<text transform="translate(248.00,330.24) rotate(-90)" text-anchor="middle" font-family='"Liberation Sans", sans-serif' font-size="8.4" fill="#111" stroke="#111" stroke-width="0.5">10</text>
<text transform="translate(248.00,317.68) rotate(-90)" text-anchor="middle" font-family='"Liberation Sans", sans-serif' font-size="8.4" fill="#111" stroke="#111" stroke-width="0.5">20</text>
<text transform="translate(248.00,305.12) rotate(-90)" text-anchor="middle" font-family='"Liberation Sans", sans-serif' font-size="8.4" fill="#111" stroke="#111" stroke-width="0.5">30</text>
<text transform="translate(248.00,292.56) rotate(-90)" text-anchor="middle" font-family='"Liberation Sans", sans-serif' font-size="8.4" fill="#111" stroke="#111" stroke-width="0.5">40</text>
<text transform="translate(248.00,280.00) rotate(-90)" text-anchor="middle" font-family='"Liberation Sans", sans-serif' font-size="8.4" fill="#111" stroke="#111" stroke-width="0.5">50</text>
<text x="249.60" y="358.90" font-family='"Liberation Sans", sans-serif' font-size="8.6" fill="#111" stroke="#111" stroke-width="0.5">10<tspan dy="-5.4" font-size="7.0">0</tspan></text>
<text x="267.40" y="358.90" font-family='"Liberation Sans", sans-serif' font-size="8.6" fill="#111" stroke="#111" stroke-width="0.5">10<tspan dy="-5.4" font-size="7.0">1</tspan></text>
<text x="285.20" y="358.90" font-family='"Liberation Sans", sans-serif' font-size="8.6" fill="#111" stroke="#111" stroke-width="0.5">10<tspan dy="-5.4" font-size="7.0">2</tspan></text>
<text x="303.00" y="358.90" font-family='"Liberation Sans", sans-serif' font-size="8.6" fill="#111" stroke="#111" stroke-width="0.5">10<tspan dy="-5.4" font-size="7.0">3</tspan></text>
<text x="320.80" y="358.90" font-family='"Liberation Sans", sans-serif' font-size="8.6" fill="#111" stroke="#111" stroke-width="0.5">10<tspan dy="-5.4" font-size="7.0">4</tspan></text>
<polyline points="254.10,337.69 254.60,337.76 255.11,337.18 255.61,337.39 256.11,337.41 256.61,336.32 257.12,336.88 257.62,337.20 258.12,336.79 258.62,337.20 259.13,336.40 259.63,336.23 260.13,336.79 260.64,336.76 261.14,336.89 261.64,337.14 262.14,336.87 262.65,337.49 263.15,337.53 263.65,338.14 264.16,337.37 264.66,338.33 265.16,337.99 265.66,337.61 266.17,336.98 266.67,337.72 267.17,337.71 267.68,338.90 268.18,339.07 268.68,338.49 269.18,338.55 269.69,337.41 270.19,337.15 270.69,337.24 271.19,337.08 271.70,338.76 272.20,339.24 272.70,339.58 273.21,340.30 273.71,341.11 274.21,341.37 274.71,341.19 275.22,340.74 275.72,341.47 276.22,340.73 276.73,341.16 277.23,341.23 277.73,340.70 278.23,341.16 278.74,341.20 279.24,341.05 279.74,340.71 280.24,341.14 280.75,340.74 281.25,340.70 281.75,340.51 282.26,340.14 282.76,340.70 283.26,340.83 283.76,341.15 284.27,340.78 284.77,340.96 285.27,340.49 285.77,340.17 286.28,340.83 286.78,340.43 287.28,340.35 287.79,340.91 288.29,342.25 288.79,342.68 289.29,342.17 289.80,342.57 290.30,342.26 290.80,342.39 291.31,341.79 291.81,342.01 292.31,341.60 292.81,342.16 293.32,341.03 293.82,340.70 294.32,340.97 294.82,340.76 295.33,342.03 295.83,344.02 296.33,343.16 296.84,340.74 297.34,340.52 297.84,339.80 298.34,338.54 298.85,338.15 299.35,338.63 299.85,338.41 300.36,338.43 300.86,338.48 301.36,337.66 301.86,336.48 302.37,334.95 302.87,335.68 303.37,335.23 303.88,335.62 304.38,336.41 304.88,336.18 305.38,335.88 305.89,336.10 306.39,336.76 306.89,335.63 307.39,336.05 307.90,336.41 308.40,338.14 308.90,338.54 309.41,339.43 309.91,339.15 310.41,340.49 310.91,341.37 311.42,341.65 311.92,341.63 312.42,342.37 312.93,343.71 313.43,343.76 313.93,343.97 314.43,344.19 314.94,344.27 315.44,344.28 315.94,344.28 316.44,344.29 316.95,344.30 317.45,344.30 317.95,344.31 318.46,344.31 318.96,344.32 319.46,344.32 319.96,344.33 320.47,344.33 320.97,344.34 321.47,344.34 321.98,344.35 322.48,344.36 322.98,344.36 323.48,344.37 323.99,344.37 324.49,344.38 324.99,344.38 325.49,344.39 326.00,344.39 326.50,344.40" fill="none" stroke="#111" stroke-width="1.05" stroke-linejoin="round"/>
<line x1="272.60" y1="323.70" x2="321.40" y2="323.70" stroke="#1a1a1a" stroke-width="1.25"/>
<line x1="272.60" y1="317.20" x2="272.60" y2="330.10" stroke="#111" stroke-width="1.6" stroke-linecap="round"/>
<line x1="321.40" y1="317.40" x2="321.40" y2="330.10" stroke="#111" stroke-width="1.6" stroke-linecap="round"/>
<text x="274.80" y="315.00" font-family='"Liberation Sans", sans-serif' font-weight="bold" font-size="15.4" fill="#111" stroke="#111" stroke-width="0.3">48.0 %</text>
<rect x="361.00" y="277.50" width="77.10" height="67.60" fill="none" stroke="#111" stroke-width="1.6"/>
<line x1="361.00" y1="276.90" x2="361.00" y2="345.70" stroke="#000" stroke-width="1.9"/>
<line x1="357.80" y1="277.50" x2="361.00" y2="277.50" stroke="#111" stroke-width="1.2"/>
<line x1="357.80" y1="345.10" x2="361.00" y2="345.10" stroke="#111" stroke-width="1.0"/>
<line x1="358.30" y1="342.40" x2="361.00" y2="342.40" stroke="#111" stroke-width="1.0"/>
<line x1="358.30" y1="339.69" x2="361.00" y2="339.69" stroke="#111" stroke-width="1.0"/>
<line x1="358.30" y1="336.99" x2="361.00" y2="336.99" stroke="#111" stroke-width="1.0"/>
<line x1="358.30" y1="334.28" x2="361.00" y2="334.28" stroke="#111" stroke-width="1.0"/>
<line x1="357.80" y1="331.58" x2="361.00" y2="331.58" stroke="#111" stroke-width="1.0"/>
<line x1="358.30" y1="328.88" x2="361.00" y2="328.88" stroke="#111" stroke-width="1.0"/>
<line x1="358.30" y1="326.17" x2="361.00" y2="326.17" stroke="#111" stroke-width="1.0"/>
<line x1="358.30" y1="323.47" x2="361.00" y2="323.47" stroke="#111" stroke-width="1.0"/>
<line x1="358.30" y1="320.76" x2="361.00" y2="320.76" stroke="#111" stroke-width="1.0"/>
<line x1="357.80" y1="318.06" x2="361.00" y2="318.06" stroke="#111" stroke-width="1.0"/>
<line x1="358.30" y1="315.36" x2="361.00" y2="315.36" stroke="#111" stroke-width="1.0"/>
<line x1="358.30" y1="312.65" x2="361.00" y2="312.65" stroke="#111" stroke-width="1.0"/>
<line x1="358.30" y1="309.95" x2="361.00" y2="309.95" stroke="#111" stroke-width="1.0"/>
<line x1="358.30" y1="307.24" x2="361.00" y2="307.24" stroke="#111" stroke-width="1.0"/>
<line x1="357.80" y1="304.54" x2="361.00" y2="304.54" stroke="#111" stroke-width="1.0"/>
<line x1="358.30" y1="301.84" x2="361.00" y2="301.84" stroke="#111" stroke-width="1.0"/>
<line x1="358.30" y1="299.13" x2="361.00" y2="299.13" stroke="#111" stroke-width="1.0"/>
<line x1="358.30" y1="296.43" x2="361.00" y2="296.43" stroke="#111" stroke-width="1.0"/>
<line x1="358.30" y1="293.72" x2="361.00" y2="293.72" stroke="#111" stroke-width="1.0"/>
<line x1="357.80" y1="291.02" x2="361.00" y2="291.02" stroke="#111" stroke-width="1.0"/>
<line x1="358.30" y1="288.32" x2="361.00" y2="288.32" stroke="#111" stroke-width="1.0"/>
<line x1="358.30" y1="285.61" x2="361.00" y2="285.61" stroke="#111" stroke-width="1.0"/>
<line x1="358.30" y1="282.91" x2="361.00" y2="282.91" stroke="#111" stroke-width="1.0"/>
<line x1="358.30" y1="280.20" x2="361.00" y2="280.20" stroke="#111" stroke-width="1.0"/>
<line x1="357.80" y1="277.50" x2="361.00" y2="277.50" stroke="#111" stroke-width="1.0"/>
<line x1="361.00" y1="345.10" x2="361.00" y2="348.30" stroke="#111" stroke-width="1.0"/>
<line x1="366.80" y1="345.10" x2="366.80" y2="347.70" stroke="#111" stroke-width="1.0"/>
<line x1="370.20" y1="345.10" x2="370.20" y2="347.70" stroke="#111" stroke-width="1.0"/>
<line x1="372.60" y1="345.10" x2="372.60" y2="347.70" stroke="#111" stroke-width="1.0"/>
<line x1="374.47" y1="345.10" x2="374.47" y2="347.70" stroke="#111" stroke-width="1.0"/>
<line x1="376.00" y1="345.10" x2="376.00" y2="347.70" stroke="#111" stroke-width="1.0"/>
<line x1="377.29" y1="345.10" x2="377.29" y2="347.70" stroke="#111" stroke-width="1.0"/>
<line x1="378.41" y1="345.10" x2="378.41" y2="347.70" stroke="#111" stroke-width="1.0"/>
<line x1="379.39" y1="345.10" x2="379.39" y2="347.70" stroke="#111" stroke-width="1.0"/>
<line x1="380.27" y1="345.10" x2="380.27" y2="348.30" stroke="#111" stroke-width="1.0"/>
<line x1="386.08" y1="345.10" x2="386.08" y2="347.70" stroke="#111" stroke-width="1.0"/>
<line x1="389.47" y1="345.10" x2="389.47" y2="347.70" stroke="#111" stroke-width="1.0"/>
<line x1="391.88" y1="345.10" x2="391.88" y2="347.70" stroke="#111" stroke-width="1.0"/>
<line x1="393.75" y1="345.10" x2="393.75" y2="347.70" stroke="#111" stroke-width="1.0"/>
<line x1="395.27" y1="345.10" x2="395.27" y2="347.70" stroke="#111" stroke-width="1.0"/>
<line x1="396.56" y1="345.10" x2="396.56" y2="347.70" stroke="#111" stroke-width="1.0"/>
<line x1="397.68" y1="345.10" x2="397.68" y2="347.70" stroke="#111" stroke-width="1.0"/>
<line x1="398.67" y1="345.10" x2="398.67" y2="347.70" stroke="#111" stroke-width="1.0"/>
<line x1="399.55" y1="345.10" x2="399.55" y2="348.30" stroke="#111" stroke-width="1.0"/>
<line x1="405.35" y1="345.10" x2="405.35" y2="347.70" stroke="#111" stroke-width="1.0"/>
<line x1="408.75" y1="345.10" x2="408.75" y2="347.70" stroke="#111" stroke-width="1.0"/>
<line x1="411.15" y1="345.10" x2="411.15" y2="347.70" stroke="#111" stroke-width="1.0"/>
<line x1="413.02" y1="345.10" x2="413.02" y2="347.70" stroke="#111" stroke-width="1.0"/>
<line x1="414.55" y1="345.10" x2="414.55" y2="347.70" stroke="#111" stroke-width="1.0"/>
<line x1="415.84" y1="345.10" x2="415.84" y2="347.70" stroke="#111" stroke-width="1.0"/>
<line x1="416.96" y1="345.10" x2="416.96" y2="347.70" stroke="#111" stroke-width="1.0"/>
<line x1="417.94" y1="345.10" x2="417.94" y2="347.70" stroke="#111" stroke-width="1.0"/>
<line x1="418.83" y1="345.10" x2="418.83" y2="348.30" stroke="#111" stroke-width="1.0"/>
<line x1="424.63" y1="345.10" x2="424.63" y2="347.70" stroke="#111" stroke-width="1.0"/>
<line x1="428.02" y1="345.10" x2="428.02" y2="347.70" stroke="#111" stroke-width="1.0"/>
<line x1="430.43" y1="345.10" x2="430.43" y2="347.70" stroke="#111" stroke-width="1.0"/>
<line x1="432.30" y1="345.10" x2="432.30" y2="347.70" stroke="#111" stroke-width="1.0"/>
<line x1="433.82" y1="345.10" x2="433.82" y2="347.70" stroke="#111" stroke-width="1.0"/>
<line x1="435.11" y1="345.10" x2="435.11" y2="347.70" stroke="#111" stroke-width="1.0"/>
<line x1="436.23" y1="345.10" x2="436.23" y2="347.70" stroke="#111" stroke-width="1.0"/>
<line x1="437.22" y1="345.10" x2="437.22" y2="347.70" stroke="#111" stroke-width="1.0"/>
<line x1="438.10" y1="345.10" x2="438.10" y2="347.90" stroke="#222" stroke-width="0.8"/>
<text transform="translate(354.90,343.50) rotate(-90)" text-anchor="middle" font-family='"Liberation Sans", sans-serif' font-size="8.4" fill="#111" stroke="#111" stroke-width="0.5">0</text>
<text transform="translate(354.90,330.40) rotate(-90)" text-anchor="middle" font-family='"Liberation Sans", sans-serif' font-size="8.4" fill="#111" stroke="#111" stroke-width="0.5">10</text>
<text transform="translate(354.90,317.30) rotate(-90)" text-anchor="middle" font-family='"Liberation Sans", sans-serif' font-size="8.4" fill="#111" stroke="#111" stroke-width="0.5">20</text>
<text transform="translate(354.90,304.20) rotate(-90)" text-anchor="middle" font-family='"Liberation Sans", sans-serif' font-size="8.4" fill="#111" stroke="#111" stroke-width="0.5">30</text>
<text transform="translate(354.90,291.10) rotate(-90)" text-anchor="middle" font-family='"Liberation Sans", sans-serif' font-size="8.4" fill="#111" stroke="#111" stroke-width="0.5">40</text>
<text transform="translate(354.90,278.00) rotate(-90)" text-anchor="middle" font-family='"Liberation Sans", sans-serif' font-size="8.4" fill="#111" stroke="#111" stroke-width="0.5">50</text>
<text x="357.30" y="358.90" font-family='"Liberation Sans", sans-serif' font-size="8.6" fill="#111" stroke="#111" stroke-width="0.5">10<tspan dy="-5.4" font-size="7.0">0</tspan></text>
<text x="376.40" y="358.90" font-family='"Liberation Sans", sans-serif' font-size="8.6" fill="#111" stroke="#111" stroke-width="0.5">10<tspan dy="-5.4" font-size="7.0">1</tspan></text>
<text x="395.50" y="358.90" font-family='"Liberation Sans", sans-serif' font-size="8.6" fill="#111" stroke="#111" stroke-width="0.5">10<tspan dy="-5.4" font-size="7.0">2</tspan></text>
<text x="414.60" y="358.90" font-family='"Liberation Sans", sans-serif' font-size="8.6" fill="#111" stroke="#111" stroke-width="0.5">10<tspan dy="-5.4" font-size="7.0">3</tspan></text>
<text x="433.70" y="358.90" font-family='"Liberation Sans", sans-serif' font-size="8.6" fill="#111" stroke="#111" stroke-width="0.5">10<tspan dy="-5.4" font-size="7.0">4</tspan></text>
<polyline points="361.00,338.81 361.50,336.46 362.00,336.67 362.50,337.49 363.00,339.31 363.50,340.34 364.00,338.90 364.50,338.52 365.01,338.26 365.51,336.35 366.01,336.03 366.51,335.03 367.01,335.09 367.51,333.13 368.01,333.29 368.51,331.56 369.01,332.43 369.51,332.90 370.01,332.92 370.51,332.73 371.01,333.93 371.51,334.44 372.01,333.93 372.51,334.26 373.02,334.37 373.52,334.24 374.02,334.33 374.52,334.06 375.02,334.01 375.52,335.21 376.02,335.78 376.52,337.60 377.02,338.51 377.52,340.13 378.02,339.68 378.52,339.72 379.02,339.00 379.52,338.92 380.02,337.55 380.53,337.83 381.03,338.80 381.53,338.89 382.03,338.75 382.53,340.34 383.03,339.86 383.53,340.86 384.03,341.08 384.53,340.68 385.03,341.35 385.53,341.26 386.03,341.08 386.53,340.74 387.03,341.67 387.53,341.08 388.04,341.32 388.54,341.52 389.04,341.93 389.54,342.11 390.04,342.61 390.54,342.62 391.04,342.80 391.54,342.00 392.04,342.76 392.54,342.99 393.04,343.16 393.54,342.20 394.04,342.22 394.54,342.56 395.04,343.15 395.54,343.27 396.05,343.29 396.55,343.17 397.05,343.68 397.55,343.40 398.05,343.75 398.55,342.91 399.05,343.00 399.55,343.68 400.05,344.02 400.55,342.98 401.05,343.79 401.55,343.66 402.05,344.07 402.55,343.49 403.05,343.29 403.56,343.22 404.06,343.69 404.56,343.34 405.06,344.07 405.56,343.78 406.06,344.07 406.56,343.71 407.06,344.25 407.56,344.34 408.06,343.95 408.56,343.08 409.06,341.64 409.56,340.74 410.06,339.48 410.56,338.63 411.06,337.59 411.57,336.40 412.07,336.09 412.57,335.52 413.07,336.13 413.57,338.76 414.07,338.17 414.57,337.21 415.07,336.95 415.57,334.81 416.07,333.67 416.57,332.96 417.07,331.75 417.57,330.57 418.07,330.41 418.57,329.51 419.08,330.99 419.58,332.00 420.08,333.49 420.58,334.92 421.08,336.70 421.58,337.65 422.08,339.29 422.58,340.62 423.08,342.45 423.58,343.26 424.08,343.65 424.58,343.88 425.08,344.75 425.58,343.88 426.08,344.31 426.59,344.44 427.09,344.49 427.59,344.54 428.09,344.59 428.59,344.64 429.09,344.70 429.59,344.75 430.09,344.80 430.59,344.84 431.09,344.85 431.59,344.87 432.09,344.89 432.59,344.91 433.09,344.92 433.59,344.94 434.09,344.96 434.60,344.98 435.10,344.99 435.60,345.01 436.10,345.03 436.60,345.05 437.10,345.06 437.60,345.08 438.10,345.10" fill="none" stroke="#111" stroke-width="1.05" stroke-linejoin="round"/>
<line x1="380.60" y1="323.80" x2="425.40" y2="323.80" stroke="#1a1a1a" stroke-width="1.25"/>
<line x1="380.60" y1="317.30" x2="380.60" y2="330.20" stroke="#111" stroke-width="1.6" stroke-linecap="round"/>
<line x1="425.40" y1="317.50" x2="425.40" y2="330.20" stroke="#111" stroke-width="1.6" stroke-linecap="round"/>
<text x="383.40" y="310.40" font-family='"Liberation Sans", sans-serif' font-weight="bold" font-size="15.4" fill="#111" stroke="#111" stroke-width="0.3">51.0 %</text>
<rect x="50.80" y="380.10" width="65.30" height="72.40" fill="none" stroke="#111" stroke-width="1.6"/>
<line x1="50.80" y1="379.50" x2="50.80" y2="453.10" stroke="#000" stroke-width="1.9"/>
<line x1="47.60" y1="380.10" x2="50.80" y2="380.10" stroke="#111" stroke-width="1.2"/>
<line x1="47.60" y1="452.50" x2="50.80" y2="452.50" stroke="#111" stroke-width="1.0"/>
<line x1="48.10" y1="449.60" x2="50.80" y2="449.60" stroke="#111" stroke-width="1.0"/>
<line x1="48.10" y1="446.71" x2="50.80" y2="446.71" stroke="#111" stroke-width="1.0"/>
<line x1="48.10" y1="443.81" x2="50.80" y2="443.81" stroke="#111" stroke-width="1.0"/>
<line x1="48.10" y1="440.92" x2="50.80" y2="440.92" stroke="#111" stroke-width="1.0"/>
<line x1="47.60" y1="438.02" x2="50.80" y2="438.02" stroke="#111" stroke-width="1.0"/>
<line x1="48.10" y1="435.12" x2="50.80" y2="435.12" stroke="#111" stroke-width="1.0"/>
<line x1="48.10" y1="432.23" x2="50.80" y2="432.23" stroke="#111" stroke-width="1.0"/>
<line x1="48.10" y1="429.33" x2="50.80" y2="429.33" stroke="#111" stroke-width="1.0"/>
<line x1="48.10" y1="426.44" x2="50.80" y2="426.44" stroke="#111" stroke-width="1.0"/>
<line x1="47.60" y1="423.54" x2="50.80" y2="423.54" stroke="#111" stroke-width="1.0"/>
<line x1="48.10" y1="420.64" x2="50.80" y2="420.64" stroke="#111" stroke-width="1.0"/>
<line x1="48.10" y1="417.75" x2="50.80" y2="417.75" stroke="#111" stroke-width="1.0"/>
<line x1="48.10" y1="414.85" x2="50.80" y2="414.85" stroke="#111" stroke-width="1.0"/>
<line x1="48.10" y1="411.96" x2="50.80" y2="411.96" stroke="#111" stroke-width="1.0"/>
<line x1="47.60" y1="409.06" x2="50.80" y2="409.06" stroke="#111" stroke-width="1.0"/>
<line x1="48.10" y1="406.16" x2="50.80" y2="406.16" stroke="#111" stroke-width="1.0"/>
<line x1="48.10" y1="403.27" x2="50.80" y2="403.27" stroke="#111" stroke-width="1.0"/>
<line x1="48.10" y1="400.37" x2="50.80" y2="400.37" stroke="#111" stroke-width="1.0"/>
<line x1="48.10" y1="397.48" x2="50.80" y2="397.48" stroke="#111" stroke-width="1.0"/>
<line x1="47.60" y1="394.58" x2="50.80" y2="394.58" stroke="#111" stroke-width="1.0"/>
<line x1="48.10" y1="391.68" x2="50.80" y2="391.68" stroke="#111" stroke-width="1.0"/>
<line x1="48.10" y1="388.79" x2="50.80" y2="388.79" stroke="#111" stroke-width="1.0"/>
<line x1="48.10" y1="385.89" x2="50.80" y2="385.89" stroke="#111" stroke-width="1.0"/>
<line x1="48.10" y1="383.00" x2="50.80" y2="383.00" stroke="#111" stroke-width="1.0"/>
<line x1="47.60" y1="380.10" x2="50.80" y2="380.10" stroke="#111" stroke-width="1.0"/>
<line x1="50.80" y1="452.50" x2="50.80" y2="455.70" stroke="#111" stroke-width="1.0"/>
<line x1="55.71" y1="452.50" x2="55.71" y2="455.10" stroke="#111" stroke-width="1.0"/>
<line x1="58.59" y1="452.50" x2="58.59" y2="455.10" stroke="#111" stroke-width="1.0"/>
<line x1="60.63" y1="452.50" x2="60.63" y2="455.10" stroke="#111" stroke-width="1.0"/>
<line x1="62.21" y1="452.50" x2="62.21" y2="455.10" stroke="#111" stroke-width="1.0"/>
<line x1="63.50" y1="452.50" x2="63.50" y2="455.10" stroke="#111" stroke-width="1.0"/>
<line x1="64.60" y1="452.50" x2="64.60" y2="455.10" stroke="#111" stroke-width="1.0"/>
<line x1="65.54" y1="452.50" x2="65.54" y2="455.10" stroke="#111" stroke-width="1.0"/>
<line x1="66.38" y1="452.50" x2="66.38" y2="455.10" stroke="#111" stroke-width="1.0"/>
<line x1="67.12" y1="452.50" x2="67.12" y2="455.70" stroke="#111" stroke-width="1.0"/>
<line x1="72.04" y1="452.50" x2="72.04" y2="455.10" stroke="#111" stroke-width="1.0"/>
<line x1="74.91" y1="452.50" x2="74.91" y2="455.10" stroke="#111" stroke-width="1.0"/>
<line x1="76.95" y1="452.50" x2="76.95" y2="455.10" stroke="#111" stroke-width="1.0"/>
<line x1="78.54" y1="452.50" x2="78.54" y2="455.10" stroke="#111" stroke-width="1.0"/>
<line x1="79.83" y1="452.50" x2="79.83" y2="455.10" stroke="#111" stroke-width="1.0"/>
<line x1="80.92" y1="452.50" x2="80.92" y2="455.10" stroke="#111" stroke-width="1.0"/>
<line x1="81.87" y1="452.50" x2="81.87" y2="455.10" stroke="#111" stroke-width="1.0"/>
<line x1="82.70" y1="452.50" x2="82.70" y2="455.10" stroke="#111" stroke-width="1.0"/>
<line x1="83.45" y1="452.50" x2="83.45" y2="455.70" stroke="#111" stroke-width="1.0"/>
<line x1="88.36" y1="452.50" x2="88.36" y2="455.10" stroke="#111" stroke-width="1.0"/>
<line x1="91.24" y1="452.50" x2="91.24" y2="455.10" stroke="#111" stroke-width="1.0"/>
<line x1="93.28" y1="452.50" x2="93.28" y2="455.10" stroke="#111" stroke-width="1.0"/>
<line x1="94.86" y1="452.50" x2="94.86" y2="455.10" stroke="#111" stroke-width="1.0"/>
<line x1="96.15" y1="452.50" x2="96.15" y2="455.10" stroke="#111" stroke-width="1.0"/>
<line x1="97.25" y1="452.50" x2="97.25" y2="455.10" stroke="#111" stroke-width="1.0"/>
<line x1="98.19" y1="452.50" x2="98.19" y2="455.10" stroke="#111" stroke-width="1.0"/>
<line x1="99.03" y1="452.50" x2="99.03" y2="455.10" stroke="#111" stroke-width="1.0"/>
<line x1="99.77" y1="452.50" x2="99.77" y2="455.70" stroke="#111" stroke-width="1.0"/>
<line x1="104.69" y1="452.50" x2="104.69" y2="455.10" stroke="#111" stroke-width="1.0"/>
<line x1="107.56" y1="452.50" x2="107.56" y2="455.10" stroke="#111" stroke-width="1.0"/>
<line x1="109.60" y1="452.50" x2="109.60" y2="455.10" stroke="#111" stroke-width="1.0"/>
<line x1="111.19" y1="452.50" x2="111.19" y2="455.10" stroke="#111" stroke-width="1.0"/>
<line x1="112.48" y1="452.50" x2="112.48" y2="455.10" stroke="#111" stroke-width="1.0"/>
<line x1="113.57" y1="452.50" x2="113.57" y2="455.10" stroke="#111" stroke-width="1.0"/>
<line x1="114.52" y1="452.50" x2="114.52" y2="455.10" stroke="#111" stroke-width="1.0"/>
<line x1="115.35" y1="452.50" x2="115.35" y2="455.10" stroke="#111" stroke-width="1.0"/>
<line x1="116.10" y1="452.50" x2="116.10" y2="455.30" stroke="#222" stroke-width="0.8"/>
<text transform="translate(44.50,450.20) rotate(-90)" text-anchor="middle" font-family='"Liberation Sans", sans-serif' font-size="8.4" fill="#111" stroke="#111" stroke-width="0.5">0</text>
<text transform="translate(44.50,436.56) rotate(-90)" text-anchor="middle" font-family='"Liberation Sans", sans-serif' font-size="8.4" fill="#111" stroke="#111" stroke-width="0.5">10</text>
<text transform="translate(44.50,422.92) rotate(-90)" text-anchor="middle" font-family='"Liberation Sans", sans-serif' font-size="8.4" fill="#111" stroke="#111" stroke-width="0.5">20</text>
<text transform="translate(44.50,409.28) rotate(-90)" text-anchor="middle" font-family='"Liberation Sans", sans-serif' font-size="8.4" fill="#111" stroke="#111" stroke-width="0.5">30</text>
<text transform="translate(44.50,395.64) rotate(-90)" text-anchor="middle" font-family='"Liberation Sans", sans-serif' font-size="8.4" fill="#111" stroke="#111" stroke-width="0.5">40</text>
<text transform="translate(44.50,382.00) rotate(-90)" text-anchor="middle" font-family='"Liberation Sans", sans-serif' font-size="8.4" fill="#111" stroke="#111" stroke-width="0.5">50</text>
<text x="44.30" y="467.60" font-family='"Liberation Sans", sans-serif' font-size="8.6" fill="#111" stroke="#111" stroke-width="0.5">10<tspan dy="-5.4" font-size="7.0">0</tspan></text>
<text x="61.20" y="467.60" font-family='"Liberation Sans", sans-serif' font-size="8.6" fill="#111" stroke="#111" stroke-width="0.5">10<tspan dy="-5.4" font-size="7.0">1</tspan></text>
<text x="78.10" y="467.60" font-family='"Liberation Sans", sans-serif' font-size="8.6" fill="#111" stroke="#111" stroke-width="0.5">10<tspan dy="-5.4" font-size="7.0">2</tspan></text>
<text x="95.00" y="467.60" font-family='"Liberation Sans", sans-serif' font-size="8.6" fill="#111" stroke="#111" stroke-width="0.5">10<tspan dy="-5.4" font-size="7.0">3</tspan></text>
<text x="111.90" y="467.60" font-family='"Liberation Sans", sans-serif' font-size="8.6" fill="#111" stroke="#111" stroke-width="0.5">10<tspan dy="-5.4" font-size="7.0">4</tspan></text>
<polyline points="50.80,445.04 51.30,444.86 51.80,444.57 52.31,444.89 52.81,445.82 53.31,444.51 53.81,444.68 54.32,445.62 54.82,446.14 55.32,446.50 55.82,448.11 56.33,445.58 56.83,444.75 57.33,443.96 57.83,444.13 58.33,443.82 58.84,445.23 59.34,444.81 59.84,444.89 60.34,446.11 60.85,446.69 61.35,446.90 61.85,446.93 62.35,446.58 62.86,446.09 63.36,445.29 63.86,445.52 64.36,445.49 64.86,446.33 65.37,446.49 65.87,448.27 66.37,448.84 66.87,449.35 67.38,448.71 67.88,447.79 68.38,446.54 68.88,445.95 69.39,446.30 69.89,447.63 70.39,447.90 70.89,448.65 71.39,449.31 71.90,450.57 72.40,449.56 72.90,450.52 73.40,448.92 73.91,448.75 74.41,450.10 74.91,449.06 75.41,447.14 75.92,445.59 76.42,445.20 76.92,446.28 77.42,447.73 77.92,447.79 78.43,449.62 78.93,449.11 79.43,450.02 79.93,449.49 80.44,448.89 80.94,450.62 81.44,449.92 81.94,450.97 82.45,450.51 82.95,450.97 83.45,451.94 83.95,450.93 84.45,450.96 84.96,451.04 85.46,450.69 85.96,450.08 86.46,450.38 86.97,450.87 87.47,450.97 87.97,450.15 88.47,449.73 88.98,448.35 89.48,449.46 89.98,447.91 90.48,447.50 90.98,448.50 91.49,446.57 91.99,446.16 92.49,445.05 92.99,445.11 93.50,443.95 94.00,442.89 94.50,443.27 95.00,445.98 95.51,446.78 96.01,446.80 96.51,445.71 97.01,444.32 97.51,442.83 98.02,441.90 98.52,443.20 99.02,442.42 99.52,443.97 100.03,444.33 100.53,444.30 101.03,446.43 101.53,447.97 102.04,448.22 102.54,449.52 103.04,450.62 103.54,451.33 104.04,451.97 104.55,452.22 105.05,452.23 105.55,452.24 106.05,452.25 106.56,452.26 107.06,452.28 107.56,452.29 108.06,452.30 108.57,452.31 109.07,452.33 109.57,452.34 110.07,452.35 110.57,452.36 111.08,452.38 111.58,452.39 112.08,452.40 112.58,452.41 113.09,452.43 113.59,452.44 114.09,452.45 114.59,452.46 115.10,452.48 115.60,452.49 116.10,452.50" fill="none" stroke="#111" stroke-width="1.05" stroke-linejoin="round"/>
<line x1="67.20" y1="428.80" x2="105.20" y2="428.80" stroke="#1a1a1a" stroke-width="1.25"/>
<line x1="67.20" y1="422.30" x2="67.20" y2="435.20" stroke="#111" stroke-width="1.6" stroke-linecap="round"/>
<line x1="105.20" y1="422.50" x2="105.20" y2="435.20" stroke="#111" stroke-width="1.6" stroke-linecap="round"/>
<text x="62.00" y="419.30" font-family='"Liberation Sans", sans-serif' font-weight="bold" font-size="15.4" fill="#111" stroke="#111" stroke-width="0.3">47.7 %</text>
<rect x="152.20" y="376.80" width="68.80" height="76.30" fill="none" stroke="#111" stroke-width="1.6"/>
<line x1="152.20" y1="376.20" x2="152.20" y2="453.70" stroke="#000" stroke-width="1.9"/>
<line x1="149.00" y1="376.80" x2="152.20" y2="376.80" stroke="#111" stroke-width="1.2"/>
<line x1="149.00" y1="453.10" x2="152.20" y2="453.10" stroke="#111" stroke-width="1.0"/>
<line x1="149.50" y1="450.05" x2="152.20" y2="450.05" stroke="#111" stroke-width="1.0"/>
<line x1="149.50" y1="447.00" x2="152.20" y2="447.00" stroke="#111" stroke-width="1.0"/>
<line x1="149.50" y1="443.94" x2="152.20" y2="443.94" stroke="#111" stroke-width="1.0"/>
<line x1="149.50" y1="440.89" x2="152.20" y2="440.89" stroke="#111" stroke-width="1.0"/>
<line x1="149.00" y1="437.84" x2="152.20" y2="437.84" stroke="#111" stroke-width="1.0"/>
<line x1="149.50" y1="434.79" x2="152.20" y2="434.79" stroke="#111" stroke-width="1.0"/>
<line x1="149.50" y1="431.74" x2="152.20" y2="431.74" stroke="#111" stroke-width="1.0"/>
<line x1="149.50" y1="428.68" x2="152.20" y2="428.68" stroke="#111" stroke-width="1.0"/>
<line x1="149.50" y1="425.63" x2="152.20" y2="425.63" stroke="#111" stroke-width="1.0"/>
<line x1="149.00" y1="422.58" x2="152.20" y2="422.58" stroke="#111" stroke-width="1.0"/>
<line x1="149.50" y1="419.53" x2="152.20" y2="419.53" stroke="#111" stroke-width="1.0"/>
<line x1="149.50" y1="416.48" x2="152.20" y2="416.48" stroke="#111" stroke-width="1.0"/>
<line x1="149.50" y1="413.42" x2="152.20" y2="413.42" stroke="#111" stroke-width="1.0"/>
<line x1="149.50" y1="410.37" x2="152.20" y2="410.37" stroke="#111" stroke-width="1.0"/>
<line x1="149.00" y1="407.32" x2="152.20" y2="407.32" stroke="#111" stroke-width="1.0"/>
<line x1="149.50" y1="404.27" x2="152.20" y2="404.27" stroke="#111" stroke-width="1.0"/>
<line x1="149.50" y1="401.22" x2="152.20" y2="401.22" stroke="#111" stroke-width="1.0"/>
<line x1="149.50" y1="398.16" x2="152.20" y2="398.16" stroke="#111" stroke-width="1.0"/>
<line x1="149.50" y1="395.11" x2="152.20" y2="395.11" stroke="#111" stroke-width="1.0"/>
<line x1="149.00" y1="392.06" x2="152.20" y2="392.06" stroke="#111" stroke-width="1.0"/>
<line x1="149.50" y1="389.01" x2="152.20" y2="389.01" stroke="#111" stroke-width="1.0"/>
<line x1="149.50" y1="385.96" x2="152.20" y2="385.96" stroke="#111" stroke-width="1.0"/>
<line x1="149.50" y1="382.90" x2="152.20" y2="382.90" stroke="#111" stroke-width="1.0"/>
<line x1="149.50" y1="379.85" x2="152.20" y2="379.85" stroke="#111" stroke-width="1.0"/>
<line x1="149.00" y1="376.80" x2="152.20" y2="376.80" stroke="#111" stroke-width="1.0"/>
<line x1="152.20" y1="453.10" x2="152.20" y2="456.30" stroke="#111" stroke-width="1.0"/>
<line x1="157.38" y1="453.10" x2="157.38" y2="455.70" stroke="#111" stroke-width="1.0"/>
<line x1="160.41" y1="453.10" x2="160.41" y2="455.70" stroke="#111" stroke-width="1.0"/>
<line x1="162.56" y1="453.10" x2="162.56" y2="455.70" stroke="#111" stroke-width="1.0"/>
<line x1="164.22" y1="453.10" x2="164.22" y2="455.70" stroke="#111" stroke-width="1.0"/>
<line x1="165.58" y1="453.10" x2="165.58" y2="455.70" stroke="#111" stroke-width="1.0"/>
<line x1="166.74" y1="453.10" x2="166.74" y2="455.70" stroke="#111" stroke-width="1.0"/>
<line x1="167.73" y1="453.10" x2="167.73" y2="455.70" stroke="#111" stroke-width="1.0"/>
<line x1="168.61" y1="453.10" x2="168.61" y2="455.70" stroke="#111" stroke-width="1.0"/>
<line x1="169.40" y1="453.10" x2="169.40" y2="456.30" stroke="#111" stroke-width="1.0"/>
<line x1="174.58" y1="453.10" x2="174.58" y2="455.70" stroke="#111" stroke-width="1.0"/>
<line x1="177.61" y1="453.10" x2="177.61" y2="455.70" stroke="#111" stroke-width="1.0"/>
<line x1="179.76" y1="453.10" x2="179.76" y2="455.70" stroke="#111" stroke-width="1.0"/>
<line x1="181.42" y1="453.10" x2="181.42" y2="455.70" stroke="#111" stroke-width="1.0"/>
<line x1="182.78" y1="453.10" x2="182.78" y2="455.70" stroke="#111" stroke-width="1.0"/>
<line x1="183.94" y1="453.10" x2="183.94" y2="455.70" stroke="#111" stroke-width="1.0"/>
<line x1="184.93" y1="453.10" x2="184.93" y2="455.70" stroke="#111" stroke-width="1.0"/>
<line x1="185.81" y1="453.10" x2="185.81" y2="455.70" stroke="#111" stroke-width="1.0"/>
<line x1="186.60" y1="453.10" x2="186.60" y2="456.30" stroke="#111" stroke-width="1.0"/>
<line x1="191.78" y1="453.10" x2="191.78" y2="455.70" stroke="#111" stroke-width="1.0"/>
<line x1="194.81" y1="453.10" x2="194.81" y2="455.70" stroke="#111" stroke-width="1.0"/>
<line x1="196.96" y1="453.10" x2="196.96" y2="455.70" stroke="#111" stroke-width="1.0"/>
<line x1="198.62" y1="453.10" x2="198.62" y2="455.70" stroke="#111" stroke-width="1.0"/>
<line x1="199.98" y1="453.10" x2="199.98" y2="455.70" stroke="#111" stroke-width="1.0"/>
<line x1="201.14" y1="453.10" x2="201.14" y2="455.70" stroke="#111" stroke-width="1.0"/>
<line x1="202.13" y1="453.10" x2="202.13" y2="455.70" stroke="#111" stroke-width="1.0"/>
<line x1="203.01" y1="453.10" x2="203.01" y2="455.70" stroke="#111" stroke-width="1.0"/>
<line x1="203.80" y1="453.10" x2="203.80" y2="456.30" stroke="#111" stroke-width="1.0"/>
<line x1="208.98" y1="453.10" x2="208.98" y2="455.70" stroke="#111" stroke-width="1.0"/>
<line x1="212.01" y1="453.10" x2="212.01" y2="455.70" stroke="#111" stroke-width="1.0"/>
<line x1="214.16" y1="453.10" x2="214.16" y2="455.70" stroke="#111" stroke-width="1.0"/>
<line x1="215.82" y1="453.10" x2="215.82" y2="455.70" stroke="#111" stroke-width="1.0"/>
<line x1="217.18" y1="453.10" x2="217.18" y2="455.70" stroke="#111" stroke-width="1.0"/>
<line x1="218.34" y1="453.10" x2="218.34" y2="455.70" stroke="#111" stroke-width="1.0"/>
<line x1="219.33" y1="453.10" x2="219.33" y2="455.70" stroke="#111" stroke-width="1.0"/>
<line x1="220.21" y1="453.10" x2="220.21" y2="455.70" stroke="#111" stroke-width="1.0"/>
<line x1="221.00" y1="453.10" x2="221.00" y2="455.90" stroke="#222" stroke-width="0.8"/>
<text transform="translate(146.20,451.50) rotate(-90)" text-anchor="middle" font-family='"Liberation Sans", sans-serif' font-size="8.4" fill="#111" stroke="#111" stroke-width="0.5">0</text>
<text transform="translate(146.20,436.96) rotate(-90)" text-anchor="middle" font-family='"Liberation Sans", sans-serif' font-size="8.4" fill="#111" stroke="#111" stroke-width="0.5">10</text>
<text transform="translate(146.20,422.42) rotate(-90)" text-anchor="middle" font-family='"Liberation Sans", sans-serif' font-size="8.4" fill="#111" stroke="#111" stroke-width="0.5">20</text>
<text transform="translate(146.20,407.88) rotate(-90)" text-anchor="middle" font-family='"Liberation Sans", sans-serif' font-size="8.4" fill="#111" stroke="#111" stroke-width="0.5">30</text>
<text transform="translate(146.20,393.34) rotate(-90)" text-anchor="middle" font-family='"Liberation Sans", sans-serif' font-size="8.4" fill="#111" stroke="#111" stroke-width="0.5">40</text>
<text transform="translate(146.20,378.80) rotate(-90)" text-anchor="middle" font-family='"Liberation Sans", sans-serif' font-size="8.4" fill="#111" stroke="#111" stroke-width="0.5">50</text>
<text x="148.30" y="468.10" font-family='"Liberation Sans", sans-serif' font-size="8.6" fill="#111" stroke="#111" stroke-width="0.5">10<tspan dy="-5.4" font-size="7.0">0</tspan></text>
<text x="164.80" y="468.10" font-family='"Liberation Sans", sans-serif' font-size="8.6" fill="#111" stroke="#111" stroke-width="0.5">10<tspan dy="-5.4" font-size="7.0">1</tspan></text>
<text x="181.30" y="468.10" font-family='"Liberation Sans", sans-serif' font-size="8.6" fill="#111" stroke="#111" stroke-width="0.5">10<tspan dy="-5.4" font-size="7.0">2</tspan></text>
<text x="197.80" y="468.10" font-family='"Liberation Sans", sans-serif' font-size="8.6" fill="#111" stroke="#111" stroke-width="0.5">10<tspan dy="-5.4" font-size="7.0">3</tspan></text>
<text x="214.30" y="468.10" font-family='"Liberation Sans", sans-serif' font-size="8.6" fill="#111" stroke="#111" stroke-width="0.5">10<tspan dy="-5.4" font-size="7.0">4</tspan></text>
<polyline points="152.20,446.37 152.70,445.69 153.20,445.65 153.71,444.75 154.21,445.32 154.71,444.77 155.21,445.68 155.72,443.81 156.22,442.51 156.72,442.24 157.22,442.88 157.72,441.82 158.23,442.31 158.73,440.46 159.23,441.09 159.73,443.87 160.24,444.14 160.74,443.09 161.24,443.49 161.74,443.29 162.24,444.86 162.75,445.49 163.25,446.63 163.75,447.63 164.25,448.30 164.75,448.89 165.26,446.65 165.76,445.12 166.26,445.34 166.76,444.79 167.27,445.14 167.77,446.26 168.27,446.59 168.77,446.36 169.27,446.37 169.78,445.81 170.28,445.94 170.78,445.47 171.28,445.19 171.79,444.46 172.29,444.99 172.79,446.28 173.29,447.87 173.79,448.94 174.30,448.75 174.80,448.74 175.30,448.57 175.80,448.76 176.31,448.73 176.81,448.05 177.31,449.70 177.81,449.34 178.31,448.64 178.82,447.77 179.32,448.25 179.82,448.47 180.32,448.91 180.82,449.09 181.33,449.42 181.83,449.06 182.33,449.53 182.83,449.55 183.34,450.90 183.84,450.94 184.34,449.96 184.84,449.73 185.34,450.68 185.85,450.96 186.35,452.30 186.85,452.15 187.35,451.22 187.86,450.80 188.36,450.18 188.86,449.43 189.36,450.07 189.86,450.08 190.37,449.81 190.87,449.05 191.37,448.61 191.87,448.01 192.38,447.86 192.88,447.47 193.38,446.79 193.88,446.75 194.38,446.12 194.89,446.42 195.39,444.80 195.89,445.16 196.39,443.25 196.89,442.56 197.40,441.96 197.90,441.29 198.40,441.03 198.90,440.37 199.41,440.20 199.91,441.06 200.41,441.75 200.91,441.68 201.41,442.22 201.92,443.84 202.42,445.81 202.92,446.96 203.42,448.69 203.93,448.97 204.43,449.44 204.93,449.40 205.43,450.25 205.93,450.07 206.44,450.88 206.94,451.43 207.44,451.72 207.94,451.04 208.45,451.85 208.95,452.61 209.45,452.45 209.95,452.59 210.45,452.73 210.96,452.80 211.46,452.82 211.96,452.83 212.46,452.85 212.96,452.86 213.47,452.88 213.97,452.89 214.47,452.91 214.97,452.92 215.48,452.94 215.98,452.95 216.48,452.97 216.98,452.98 217.48,453.00 217.99,453.01 218.49,453.03 218.99,453.04 219.49,453.06 220.00,453.07 220.50,453.09 221.00,453.10" fill="none" stroke="#111" stroke-width="1.05" stroke-linejoin="round"/>
<line x1="169.10" y1="431.00" x2="211.20" y2="431.00" stroke="#1a1a1a" stroke-width="1.25"/>
<line x1="169.10" y1="424.50" x2="169.10" y2="437.40" stroke="#111" stroke-width="1.6" stroke-linecap="round"/>
<line x1="211.20" y1="424.70" x2="211.20" y2="437.40" stroke="#111" stroke-width="1.6" stroke-linecap="round"/>
<text x="167.00" y="422.70" font-family='"Liberation Sans", sans-serif' font-weight="bold" font-size="15.4" fill="#111" stroke="#111" stroke-width="0.3">51.3 %</text>
<rect x="252.80" y="378.50" width="69.80" height="74.80" fill="none" stroke="#111" stroke-width="1.6"/>
<line x1="252.80" y1="377.90" x2="252.80" y2="453.90" stroke="#000" stroke-width="1.9"/>
<line x1="249.60" y1="378.50" x2="252.80" y2="378.50" stroke="#111" stroke-width="1.2"/>
<line x1="249.60" y1="453.30" x2="252.80" y2="453.30" stroke="#111" stroke-width="1.0"/>
<line x1="250.10" y1="450.31" x2="252.80" y2="450.31" stroke="#111" stroke-width="1.0"/>
<line x1="250.10" y1="447.32" x2="252.80" y2="447.32" stroke="#111" stroke-width="1.0"/>
<line x1="250.10" y1="444.32" x2="252.80" y2="444.32" stroke="#111" stroke-width="1.0"/>
<line x1="250.10" y1="441.33" x2="252.80" y2="441.33" stroke="#111" stroke-width="1.0"/>
<line x1="249.60" y1="438.34" x2="252.80" y2="438.34" stroke="#111" stroke-width="1.0"/>
<line x1="250.10" y1="435.35" x2="252.80" y2="435.35" stroke="#111" stroke-width="1.0"/>
<line x1="250.10" y1="432.36" x2="252.80" y2="432.36" stroke="#111" stroke-width="1.0"/>
<line x1="250.10" y1="429.36" x2="252.80" y2="429.36" stroke="#111" stroke-width="1.0"/>
<line x1="250.10" y1="426.37" x2="252.80" y2="426.37" stroke="#111" stroke-width="1.0"/>
<line x1="249.60" y1="423.38" x2="252.80" y2="423.38" stroke="#111" stroke-width="1.0"/>
<line x1="250.10" y1="420.39" x2="252.80" y2="420.39" stroke="#111" stroke-width="1.0"/>
<line x1="250.10" y1="417.40" x2="252.80" y2="417.40" stroke="#111" stroke-width="1.0"/>
<line x1="250.10" y1="414.40" x2="252.80" y2="414.40" stroke="#111" stroke-width="1.0"/>
<line x1="250.10" y1="411.41" x2="252.80" y2="411.41" stroke="#111" stroke-width="1.0"/>
<line x1="249.60" y1="408.42" x2="252.80" y2="408.42" stroke="#111" stroke-width="1.0"/>
<line x1="250.10" y1="405.43" x2="252.80" y2="405.43" stroke="#111" stroke-width="1.0"/>
<line x1="250.10" y1="402.44" x2="252.80" y2="402.44" stroke="#111" stroke-width="1.0"/>
<line x1="250.10" y1="399.44" x2="252.80" y2="399.44" stroke="#111" stroke-width="1.0"/>
<line x1="250.10" y1="396.45" x2="252.80" y2="396.45" stroke="#111" stroke-width="1.0"/>
<line x1="249.60" y1="393.46" x2="252.80" y2="393.46" stroke="#111" stroke-width="1.0"/>
<line x1="250.10" y1="390.47" x2="252.80" y2="390.47" stroke="#111" stroke-width="1.0"/>
<line x1="250.10" y1="387.48" x2="252.80" y2="387.48" stroke="#111" stroke-width="1.0"/>
<line x1="250.10" y1="384.48" x2="252.80" y2="384.48" stroke="#111" stroke-width="1.0"/>
<line x1="250.10" y1="381.49" x2="252.80" y2="381.49" stroke="#111" stroke-width="1.0"/>
<line x1="249.60" y1="378.50" x2="252.80" y2="378.50" stroke="#111" stroke-width="1.0"/>
<line x1="252.80" y1="453.30" x2="252.80" y2="456.50" stroke="#111" stroke-width="1.0"/>
<line x1="258.05" y1="453.30" x2="258.05" y2="455.90" stroke="#111" stroke-width="1.0"/>
<line x1="261.13" y1="453.30" x2="261.13" y2="455.90" stroke="#111" stroke-width="1.0"/>
<line x1="263.31" y1="453.30" x2="263.31" y2="455.90" stroke="#111" stroke-width="1.0"/>
<line x1="265.00" y1="453.30" x2="265.00" y2="455.90" stroke="#111" stroke-width="1.0"/>
<line x1="266.38" y1="453.30" x2="266.38" y2="455.90" stroke="#111" stroke-width="1.0"/>
<line x1="267.55" y1="453.30" x2="267.55" y2="455.90" stroke="#111" stroke-width="1.0"/>
<line x1="268.56" y1="453.30" x2="268.56" y2="455.90" stroke="#111" stroke-width="1.0"/>
<line x1="269.45" y1="453.30" x2="269.45" y2="455.90" stroke="#111" stroke-width="1.0"/>
<line x1="270.25" y1="453.30" x2="270.25" y2="456.50" stroke="#111" stroke-width="1.0"/>
<line x1="275.50" y1="453.30" x2="275.50" y2="455.90" stroke="#111" stroke-width="1.0"/>
<line x1="278.58" y1="453.30" x2="278.58" y2="455.90" stroke="#111" stroke-width="1.0"/>
<line x1="280.76" y1="453.30" x2="280.76" y2="455.90" stroke="#111" stroke-width="1.0"/>
<line x1="282.45" y1="453.30" x2="282.45" y2="455.90" stroke="#111" stroke-width="1.0"/>
<line x1="283.83" y1="453.30" x2="283.83" y2="455.90" stroke="#111" stroke-width="1.0"/>
<line x1="285.00" y1="453.30" x2="285.00" y2="455.90" stroke="#111" stroke-width="1.0"/>
<line x1="286.01" y1="453.30" x2="286.01" y2="455.90" stroke="#111" stroke-width="1.0"/>
<line x1="286.90" y1="453.30" x2="286.90" y2="455.90" stroke="#111" stroke-width="1.0"/>
<line x1="287.70" y1="453.30" x2="287.70" y2="456.50" stroke="#111" stroke-width="1.0"/>
<line x1="292.95" y1="453.30" x2="292.95" y2="455.90" stroke="#111" stroke-width="1.0"/>
<line x1="296.03" y1="453.30" x2="296.03" y2="455.90" stroke="#111" stroke-width="1.0"/>
<line x1="298.21" y1="453.30" x2="298.21" y2="455.90" stroke="#111" stroke-width="1.0"/>
<line x1="299.90" y1="453.30" x2="299.90" y2="455.90" stroke="#111" stroke-width="1.0"/>
<line x1="301.28" y1="453.30" x2="301.28" y2="455.90" stroke="#111" stroke-width="1.0"/>
<line x1="302.45" y1="453.30" x2="302.45" y2="455.90" stroke="#111" stroke-width="1.0"/>
<line x1="303.46" y1="453.30" x2="303.46" y2="455.90" stroke="#111" stroke-width="1.0"/>
<line x1="304.35" y1="453.30" x2="304.35" y2="455.90" stroke="#111" stroke-width="1.0"/>
<line x1="305.15" y1="453.30" x2="305.15" y2="456.50" stroke="#111" stroke-width="1.0"/>
<line x1="310.40" y1="453.30" x2="310.40" y2="455.90" stroke="#111" stroke-width="1.0"/>
<line x1="313.48" y1="453.30" x2="313.48" y2="455.90" stroke="#111" stroke-width="1.0"/>
<line x1="315.66" y1="453.30" x2="315.66" y2="455.90" stroke="#111" stroke-width="1.0"/>
<line x1="317.35" y1="453.30" x2="317.35" y2="455.90" stroke="#111" stroke-width="1.0"/>
<line x1="318.73" y1="453.30" x2="318.73" y2="455.90" stroke="#111" stroke-width="1.0"/>
<line x1="319.90" y1="453.30" x2="319.90" y2="455.90" stroke="#111" stroke-width="1.0"/>
<line x1="320.91" y1="453.30" x2="320.91" y2="455.90" stroke="#111" stroke-width="1.0"/>
<line x1="321.80" y1="453.30" x2="321.80" y2="455.90" stroke="#111" stroke-width="1.0"/>
<line x1="322.60" y1="453.30" x2="322.60" y2="456.10" stroke="#222" stroke-width="0.8"/>
<text transform="translate(247.50,452.70) rotate(-90)" text-anchor="middle" font-family='"Liberation Sans", sans-serif' font-size="8.4" fill="#111" stroke="#111" stroke-width="0.5">0</text>
<text transform="translate(247.50,438.18) rotate(-90)" text-anchor="middle" font-family='"Liberation Sans", sans-serif' font-size="8.4" fill="#111" stroke="#111" stroke-width="0.5">10</text>
<text transform="translate(247.50,423.66) rotate(-90)" text-anchor="middle" font-family='"Liberation Sans", sans-serif' font-size="8.4" fill="#111" stroke="#111" stroke-width="0.5">20</text>
<text transform="translate(247.50,409.14) rotate(-90)" text-anchor="middle" font-family='"Liberation Sans", sans-serif' font-size="8.4" fill="#111" stroke="#111" stroke-width="0.5">30</text>
<text transform="translate(247.50,394.62) rotate(-90)" text-anchor="middle" font-family='"Liberation Sans", sans-serif' font-size="8.4" fill="#111" stroke="#111" stroke-width="0.5">40</text>
<text transform="translate(247.50,380.10) rotate(-90)" text-anchor="middle" font-family='"Liberation Sans", sans-serif' font-size="8.4" fill="#111" stroke="#111" stroke-width="0.5">50</text>
<text x="248.70" y="468.30" font-family='"Liberation Sans", sans-serif' font-size="8.6" fill="#111" stroke="#111" stroke-width="0.5">10<tspan dy="-5.4" font-size="7.0">0</tspan></text>
<text x="266.00" y="468.30" font-family='"Liberation Sans", sans-serif' font-size="8.6" fill="#111" stroke="#111" stroke-width="0.5">10<tspan dy="-5.4" font-size="7.0">1</tspan></text>
<text x="283.30" y="468.30" font-family='"Liberation Sans", sans-serif' font-size="8.6" fill="#111" stroke="#111" stroke-width="0.5">10<tspan dy="-5.4" font-size="7.0">2</tspan></text>
<text x="300.60" y="468.30" font-family='"Liberation Sans", sans-serif' font-size="8.6" fill="#111" stroke="#111" stroke-width="0.5">10<tspan dy="-5.4" font-size="7.0">3</tspan></text>
<text x="317.90" y="468.30" font-family='"Liberation Sans", sans-serif' font-size="8.6" fill="#111" stroke="#111" stroke-width="0.5">10<tspan dy="-5.4" font-size="7.0">4</tspan></text>
<polyline points="252.80,452.55 253.30,452.50 253.80,451.03 254.31,450.26 254.81,450.13 255.31,449.87 255.81,448.75 256.32,447.90 256.82,449.46 257.32,450.27 257.82,450.33 258.32,449.87 258.83,448.50 259.33,448.25 259.83,446.38 260.33,445.64 260.83,446.21 261.34,446.89 261.84,445.97 262.34,451.11 262.84,448.62 263.35,447.46 263.85,445.92 264.35,445.87 264.85,447.32 265.35,446.94 265.86,447.99 266.36,448.82 266.86,449.13 267.36,449.21 267.86,448.79 268.37,447.96 268.87,448.74 269.37,447.96 269.87,447.67 270.38,445.95 270.88,446.63 271.38,446.19 271.88,446.39 272.38,446.38 272.89,446.11 273.39,446.62 273.89,447.37 274.39,447.56 274.89,448.23 275.40,449.71 275.90,449.72 276.40,448.21 276.90,448.12 277.41,448.81 277.91,447.56 278.41,448.35 278.91,448.72 279.41,449.16 279.92,449.77 280.42,450.38 280.92,450.31 281.42,450.50 281.93,449.90 282.43,451.44 282.93,450.48 283.43,451.67 283.93,451.15 284.44,450.16 284.94,449.86 285.44,450.14 285.94,450.65 286.44,450.32 286.95,450.76 287.45,450.26 287.95,451.66 288.45,451.31 288.96,450.04 289.46,450.87 289.96,449.83 290.46,448.76 290.96,448.40 291.47,449.05 291.97,448.63 292.47,448.16 292.97,446.84 293.47,447.83 293.98,447.10 294.48,446.87 294.98,446.36 295.48,444.65 295.99,442.26 296.49,441.82 296.99,441.31 297.49,439.34 297.99,438.65 298.50,437.82 299.00,437.73 299.50,436.11 300.00,435.37 300.51,436.33 301.01,436.51 301.51,438.64 302.01,439.94 302.51,441.20 303.02,442.91 303.52,445.46 304.02,447.78 304.52,449.40 305.02,450.55 305.53,450.75 306.03,450.26 306.53,451.53 307.03,450.75 307.54,451.01 308.04,451.40 308.54,451.99 309.04,452.92 309.54,453.15 310.05,453.16 310.55,453.16 311.05,453.17 311.55,453.18 312.05,453.18 312.56,453.19 313.06,453.19 313.56,453.20 314.06,453.20 314.57,453.21 315.07,453.22 315.57,453.22 316.07,453.23 316.57,453.23 317.08,453.24 317.58,453.24 318.08,453.25 318.58,453.25 319.08,453.26 319.59,453.27 320.09,453.27 320.59,453.28 321.09,453.28 321.60,453.29 322.10,453.29 322.60,453.30" fill="none" stroke="#111" stroke-width="1.05" stroke-linejoin="round"/>
<line x1="270.00" y1="429.30" x2="310.20" y2="429.30" stroke="#1a1a1a" stroke-width="1.25"/>
<line x1="270.00" y1="422.80" x2="270.00" y2="435.70" stroke="#111" stroke-width="1.6" stroke-linecap="round"/>
<line x1="310.20" y1="423.00" x2="310.20" y2="435.70" stroke="#111" stroke-width="1.6" stroke-linecap="round"/>
<text x="265.90" y="420.50" font-family='"Liberation Sans", sans-serif' font-weight="bold" font-size="15.4" fill="#111" stroke="#111" stroke-width="0.3">76.5 %</text>
<rect x="359.20" y="376.60" width="78.70" height="76.60" fill="none" stroke="#111" stroke-width="1.6"/>
<line x1="359.20" y1="376.00" x2="359.20" y2="453.80" stroke="#000" stroke-width="1.9"/>
<line x1="356.00" y1="376.60" x2="359.20" y2="376.60" stroke="#111" stroke-width="1.2"/>
<line x1="356.00" y1="453.20" x2="359.20" y2="453.20" stroke="#111" stroke-width="1.0"/>
<line x1="356.50" y1="450.14" x2="359.20" y2="450.14" stroke="#111" stroke-width="1.0"/>
<line x1="356.50" y1="447.07" x2="359.20" y2="447.07" stroke="#111" stroke-width="1.0"/>
<line x1="356.50" y1="444.01" x2="359.20" y2="444.01" stroke="#111" stroke-width="1.0"/>
<line x1="356.50" y1="440.94" x2="359.20" y2="440.94" stroke="#111" stroke-width="1.0"/>
<line x1="356.00" y1="437.88" x2="359.20" y2="437.88" stroke="#111" stroke-width="1.0"/>
<line x1="356.50" y1="434.82" x2="359.20" y2="434.82" stroke="#111" stroke-width="1.0"/>
<line x1="356.50" y1="431.75" x2="359.20" y2="431.75" stroke="#111" stroke-width="1.0"/>
<line x1="356.50" y1="428.69" x2="359.20" y2="428.69" stroke="#111" stroke-width="1.0"/>
<line x1="356.50" y1="425.62" x2="359.20" y2="425.62" stroke="#111" stroke-width="1.0"/>
<line x1="356.00" y1="422.56" x2="359.20" y2="422.56" stroke="#111" stroke-width="1.0"/>
<line x1="356.50" y1="419.50" x2="359.20" y2="419.50" stroke="#111" stroke-width="1.0"/>
<line x1="356.50" y1="416.43" x2="359.20" y2="416.43" stroke="#111" stroke-width="1.0"/>
<line x1="356.50" y1="413.37" x2="359.20" y2="413.37" stroke="#111" stroke-width="1.0"/>
<line x1="356.50" y1="410.30" x2="359.20" y2="410.30" stroke="#111" stroke-width="1.0"/>
<line x1="356.00" y1="407.24" x2="359.20" y2="407.24" stroke="#111" stroke-width="1.0"/>
<line x1="356.50" y1="404.18" x2="359.20" y2="404.18" stroke="#111" stroke-width="1.0"/>
<line x1="356.50" y1="401.11" x2="359.20" y2="401.11" stroke="#111" stroke-width="1.0"/>
<line x1="356.50" y1="398.05" x2="359.20" y2="398.05" stroke="#111" stroke-width="1.0"/>
<line x1="356.50" y1="394.98" x2="359.20" y2="394.98" stroke="#111" stroke-width="1.0"/>
<line x1="356.00" y1="391.92" x2="359.20" y2="391.92" stroke="#111" stroke-width="1.0"/>
<line x1="356.50" y1="388.86" x2="359.20" y2="388.86" stroke="#111" stroke-width="1.0"/>
<line x1="356.50" y1="385.79" x2="359.20" y2="385.79" stroke="#111" stroke-width="1.0"/>
<line x1="356.50" y1="382.73" x2="359.20" y2="382.73" stroke="#111" stroke-width="1.0"/>
<line x1="356.50" y1="379.66" x2="359.20" y2="379.66" stroke="#111" stroke-width="1.0"/>
<line x1="356.00" y1="376.60" x2="359.20" y2="376.60" stroke="#111" stroke-width="1.0"/>
<line x1="359.20" y1="453.20" x2="359.20" y2="456.40" stroke="#111" stroke-width="1.0"/>
<line x1="365.12" y1="453.20" x2="365.12" y2="455.80" stroke="#111" stroke-width="1.0"/>
<line x1="368.59" y1="453.20" x2="368.59" y2="455.80" stroke="#111" stroke-width="1.0"/>
<line x1="371.05" y1="453.20" x2="371.05" y2="455.80" stroke="#111" stroke-width="1.0"/>
<line x1="372.95" y1="453.20" x2="372.95" y2="455.80" stroke="#111" stroke-width="1.0"/>
<line x1="374.51" y1="453.20" x2="374.51" y2="455.80" stroke="#111" stroke-width="1.0"/>
<line x1="375.83" y1="453.20" x2="375.83" y2="455.80" stroke="#111" stroke-width="1.0"/>
<line x1="376.97" y1="453.20" x2="376.97" y2="455.80" stroke="#111" stroke-width="1.0"/>
<line x1="377.97" y1="453.20" x2="377.97" y2="455.80" stroke="#111" stroke-width="1.0"/>
<line x1="378.88" y1="453.20" x2="378.88" y2="456.40" stroke="#111" stroke-width="1.0"/>
<line x1="384.80" y1="453.20" x2="384.80" y2="455.80" stroke="#111" stroke-width="1.0"/>
<line x1="388.26" y1="453.20" x2="388.26" y2="455.80" stroke="#111" stroke-width="1.0"/>
<line x1="390.72" y1="453.20" x2="390.72" y2="455.80" stroke="#111" stroke-width="1.0"/>
<line x1="392.63" y1="453.20" x2="392.63" y2="455.80" stroke="#111" stroke-width="1.0"/>
<line x1="394.19" y1="453.20" x2="394.19" y2="455.80" stroke="#111" stroke-width="1.0"/>
<line x1="395.50" y1="453.20" x2="395.50" y2="455.80" stroke="#111" stroke-width="1.0"/>
<line x1="396.64" y1="453.20" x2="396.64" y2="455.80" stroke="#111" stroke-width="1.0"/>
<line x1="397.65" y1="453.20" x2="397.65" y2="455.80" stroke="#111" stroke-width="1.0"/>
<line x1="398.55" y1="453.20" x2="398.55" y2="456.40" stroke="#111" stroke-width="1.0"/>
<line x1="404.47" y1="453.20" x2="404.47" y2="455.80" stroke="#111" stroke-width="1.0"/>
<line x1="407.94" y1="453.20" x2="407.94" y2="455.80" stroke="#111" stroke-width="1.0"/>
<line x1="410.40" y1="453.20" x2="410.40" y2="455.80" stroke="#111" stroke-width="1.0"/>
<line x1="412.30" y1="453.20" x2="412.30" y2="455.80" stroke="#111" stroke-width="1.0"/>
<line x1="413.86" y1="453.20" x2="413.86" y2="455.80" stroke="#111" stroke-width="1.0"/>
<line x1="415.18" y1="453.20" x2="415.18" y2="455.80" stroke="#111" stroke-width="1.0"/>
<line x1="416.32" y1="453.20" x2="416.32" y2="455.80" stroke="#111" stroke-width="1.0"/>
<line x1="417.32" y1="453.20" x2="417.32" y2="455.80" stroke="#111" stroke-width="1.0"/>
<line x1="418.22" y1="453.20" x2="418.22" y2="456.40" stroke="#111" stroke-width="1.0"/>
<line x1="424.15" y1="453.20" x2="424.15" y2="455.80" stroke="#111" stroke-width="1.0"/>
<line x1="427.61" y1="453.20" x2="427.61" y2="455.80" stroke="#111" stroke-width="1.0"/>
<line x1="430.07" y1="453.20" x2="430.07" y2="455.80" stroke="#111" stroke-width="1.0"/>
<line x1="431.98" y1="453.20" x2="431.98" y2="455.80" stroke="#111" stroke-width="1.0"/>
<line x1="433.54" y1="453.20" x2="433.54" y2="455.80" stroke="#111" stroke-width="1.0"/>
<line x1="434.85" y1="453.20" x2="434.85" y2="455.80" stroke="#111" stroke-width="1.0"/>
<line x1="435.99" y1="453.20" x2="435.99" y2="455.80" stroke="#111" stroke-width="1.0"/>
<line x1="437.00" y1="453.20" x2="437.00" y2="455.80" stroke="#111" stroke-width="1.0"/>
<line x1="437.90" y1="453.20" x2="437.90" y2="456.00" stroke="#222" stroke-width="0.8"/>
<text transform="translate(353.20,451.10) rotate(-90)" text-anchor="middle" font-family='"Liberation Sans", sans-serif' font-size="8.4" fill="#111" stroke="#111" stroke-width="0.5">0</text>
<text transform="translate(353.20,436.38) rotate(-90)" text-anchor="middle" font-family='"Liberation Sans", sans-serif' font-size="8.4" fill="#111" stroke="#111" stroke-width="0.5">10</text>
<text transform="translate(353.20,421.66) rotate(-90)" text-anchor="middle" font-family='"Liberation Sans", sans-serif' font-size="8.4" fill="#111" stroke="#111" stroke-width="0.5">20</text>
<text transform="translate(353.20,406.94) rotate(-90)" text-anchor="middle" font-family='"Liberation Sans", sans-serif' font-size="8.4" fill="#111" stroke="#111" stroke-width="0.5">30</text>
<text transform="translate(353.20,392.22) rotate(-90)" text-anchor="middle" font-family='"Liberation Sans", sans-serif' font-size="8.4" fill="#111" stroke="#111" stroke-width="0.5">40</text>
<text transform="translate(353.20,377.50) rotate(-90)" text-anchor="middle" font-family='"Liberation Sans", sans-serif' font-size="8.4" fill="#111" stroke="#111" stroke-width="0.5">50</text>
<text x="354.80" y="467.70" font-family='"Liberation Sans", sans-serif' font-size="8.6" fill="#111" stroke="#111" stroke-width="0.5">10<tspan dy="-5.4" font-size="7.0">0</tspan></text>
<text x="374.00" y="467.70" font-family='"Liberation Sans", sans-serif' font-size="8.6" fill="#111" stroke="#111" stroke-width="0.5">10<tspan dy="-5.4" font-size="7.0">1</tspan></text>
<text x="393.20" y="467.70" font-family='"Liberation Sans", sans-serif' font-size="8.6" fill="#111" stroke="#111" stroke-width="0.5">10<tspan dy="-5.4" font-size="7.0">2</tspan></text>
<text x="412.40" y="467.70" font-family='"Liberation Sans", sans-serif' font-size="8.6" fill="#111" stroke="#111" stroke-width="0.5">10<tspan dy="-5.4" font-size="7.0">3</tspan></text>
<text x="431.60" y="467.70" font-family='"Liberation Sans", sans-serif' font-size="8.6" fill="#111" stroke="#111" stroke-width="0.5">10<tspan dy="-5.4" font-size="7.0">4</tspan></text>
<polyline points="359.20,452.74 359.70,451.83 360.20,451.50 360.70,451.40 361.21,451.25 361.71,450.52 362.21,451.51 362.71,451.25 363.21,449.49 363.71,448.86 364.21,448.00 364.71,449.02 365.22,449.20 365.72,450.16 366.22,449.29 366.72,449.58 367.22,449.56 367.72,450.77 368.22,450.42 368.72,449.78 369.23,448.54 369.73,447.58 370.23,447.90 370.73,448.42 371.23,448.35 371.73,448.24 372.23,448.32 372.73,448.00 373.24,447.63 373.74,447.70 374.24,448.33 374.74,446.97 375.24,447.53 375.74,446.83 376.24,446.85 376.74,446.06 377.25,446.76 377.75,446.57 378.25,446.45 378.75,446.47 379.25,445.47 379.75,446.70 380.25,447.85 380.75,448.51 381.26,447.08 381.76,446.68 382.26,445.95 382.76,445.76 383.26,446.70 383.76,446.88 384.26,448.94 384.76,448.16 385.27,446.84 385.77,446.00 386.27,445.32 386.77,447.39 387.27,447.74 387.77,448.73 388.27,449.36 388.78,447.95 389.28,448.02 389.78,446.97 390.28,447.30 390.78,446.38 391.28,447.53 391.78,448.32 392.28,448.03 392.79,448.28 393.29,450.18 393.79,450.06 394.29,450.44 394.79,450.15 395.29,449.02 395.79,448.46 396.29,447.46 396.80,447.29 397.30,446.97 397.80,447.10 398.30,448.91 398.80,450.64 399.30,450.94 399.80,450.23 400.30,450.34 400.81,449.29 401.31,448.59 401.81,446.91 402.31,446.51 402.81,446.56 403.31,445.87 403.81,444.79 404.31,442.94 404.82,440.25 405.32,438.82 405.82,436.75 406.32,433.99 406.82,432.13 407.32,429.32 407.82,425.96 408.32,420.84 408.83,417.93 409.33,414.37 409.83,411.81 410.33,409.35 410.83,406.90 411.33,408.03 411.83,410.34 412.34,412.06 412.84,413.27 413.34,416.41 413.84,420.97 414.34,423.85 414.84,430.96 415.34,436.06 415.84,440.19 416.35,442.68 416.85,444.91 417.35,446.95 417.85,448.75 418.35,448.85 418.85,449.38 419.35,449.63 419.85,451.55 420.36,451.08 420.86,451.73 421.36,451.79 421.86,452.61 422.36,452.66 422.86,452.45 423.36,452.47 423.86,452.50 424.37,452.52 424.87,452.55 425.37,452.57 425.87,452.60 426.37,452.62 426.87,452.65 427.37,452.67 427.87,452.70 428.38,452.72 428.88,452.75 429.38,452.77 429.88,452.80 430.38,452.82 430.88,452.85 431.38,452.87 431.88,452.90 432.39,452.92 432.89,452.95 433.39,452.97 433.89,453.00 434.39,453.02 434.89,453.05 435.39,453.07 435.89,453.10 436.40,453.12 436.90,453.15 437.40,453.17 437.90,453.20" fill="none" stroke="#111" stroke-width="1.05" stroke-linejoin="round"/>
<line x1="379.60" y1="433.60" x2="428.70" y2="433.60" stroke="#1a1a1a" stroke-width="1.25"/>
<line x1="379.60" y1="427.10" x2="379.60" y2="440.00" stroke="#111" stroke-width="1.6" stroke-linecap="round"/>
<line x1="428.70" y1="427.30" x2="428.70" y2="440.00" stroke="#111" stroke-width="1.6" stroke-linecap="round"/>
<text x="381.40" y="402.40" font-family='"Liberation Sans", sans-serif' font-weight="bold" font-size="15.4" fill="#111" stroke="#111" stroke-width="0.3">94.6 %</text>
<text transform="translate(469.0,262.4) scale(1,1.14)" x="0" y="0" text-anchor="middle" font-family='"Liberation Serif", serif' font-weight="bold" font-size="14.8" fill="#111" stroke="#111" stroke-width="0.3">Rapamycin</text>
<rect x="465.1" y="308.0" width="14.5" height="2.9" rx="1.2" fill="#0a0a0a"/>
<rect x="465.8" y="415.1" width="14.8" height="3.1" rx="1.3" fill="#0a0a0a"/>
<rect x="471.8" y="409.8" width="3.1" height="14.1" rx="1.3" fill="#0a0a0a"/>
<text transform="translate(27.6,366.7) rotate(-90) scale(1,1.13)" text-anchor="middle" font-family='"Liberation Serif", serif' font-weight="bold" font-size="15.9" fill="#111" stroke="#111" stroke-width="0.3">Counts</text>
<text x="237.0" y="488.6" text-anchor="middle" font-family='"Liberation Serif", serif' font-weight="bold" font-size="15.9" fill="#111" stroke="#111" stroke-width="0.25">Annexin V-FITC</text>
<text x="78.3" y="513.6" text-anchor="middle" font-family='"Liberation Serif", serif' font-weight="bold" font-size="14.6" fill="#111" stroke="#111" stroke-width="0.25">0</text>
<text x="185.0" y="513.6" text-anchor="middle" font-family='"Liberation Serif", serif' font-weight="bold" font-size="14.6" fill="#111" stroke="#111" stroke-width="0.25">125</text>
<text x="291.1" y="513.6" text-anchor="middle" font-family='"Liberation Serif", serif' font-weight="bold" font-size="14.6" fill="#111" stroke="#111" stroke-width="0.25">250</text>
<text x="397.2" y="513.6" text-anchor="middle" font-family='"Liberation Serif", serif' font-weight="bold" font-size="14.6" fill="#111" stroke="#111" stroke-width="0.25">500</text>
<text x="239.6" y="529.8" text-anchor="middle" font-family='"Liberation Serif", serif' font-weight="bold" font-size="15.2" fill="#111" stroke="#111" stroke-width="0.25">Doxorubicin (nM)</text>
</svg>
</body></html>
